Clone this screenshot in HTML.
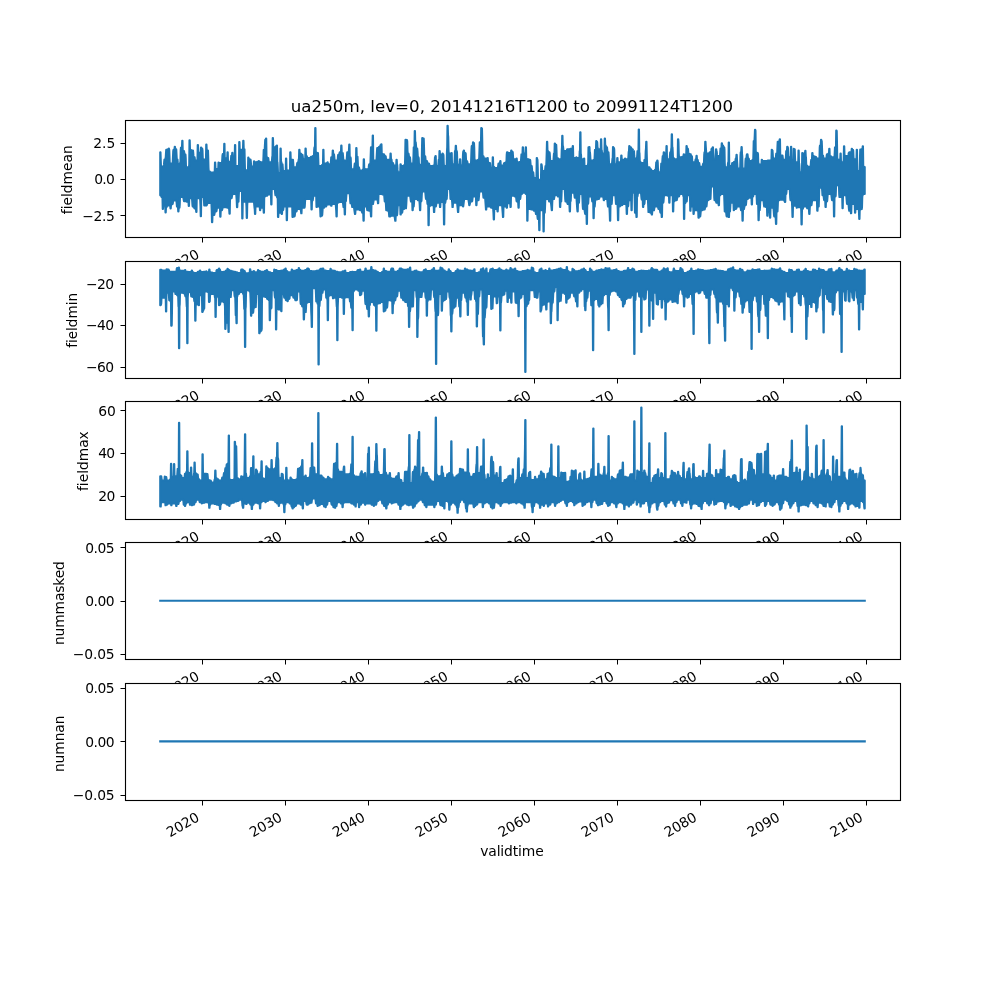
<!DOCTYPE html>
<html lang="en"><head><meta charset="utf-8"><title>ua250m, lev=0, 20141216T1200 to 20991124T1200</title>
<style>html,body{margin:0;padding:0;background:#fff;width:1000px;height:1000px;overflow:hidden}svg{display:block}text{white-space:pre;font-variant-ligatures:none;font-feature-settings:'liga' 0,'clig' 0}</style>
</head><body>
<svg width="1000" height="1000" viewBox="0 0 1000 1000">
<rect x="0" y="0" width="1000" height="1000" fill="#ffffff"/>
<defs>
<clipPath id="c0"><rect x="125.000" y="120.000" width="775.000" height="117.241"/></clipPath>
<clipPath id="c1"><rect x="125.000" y="260.690" width="775.000" height="117.241"/></clipPath>
<clipPath id="c2"><rect x="125.000" y="401.379" width="775.000" height="117.241"/></clipPath>
<clipPath id="c3"><rect x="125.000" y="542.069" width="775.000" height="117.241"/></clipPath>
<clipPath id="c4"><rect x="125.000" y="682.759" width="775.000" height="117.241"/></clipPath>
</defs>
<g font-family="'DejaVu Sans','Liberation Sans',sans-serif" font-size="13.889" fill="#000000">
<g id="axes1">
<rect x="125.000" y="120.000" width="775.000" height="117.241" fill="#ffffff"/>
<path d="M160.23 152.24 L160.48 152.24 L160.73 159.79 L160.98 166.64 L163.73 166.64 L163.98 164.68 L164.23 161.35 L164.48 159.44 L165.48 159.44 L165.73 157.72 L165.98 153.28 L166.23 149.84 L167.23 149.83 L167.48 149.41 L167.73 149.24 L168.48 149.24 L168.73 148.64 L168.98 148.64 L169.23 149.84 L169.48 156.58 L169.73 163.64 L172.48 163.64 L172.73 162.46 L173.23 151.18 L173.48 149.84 L174.48 149.84 L174.73 146.84 L174.98 146.84 L175.23 149.24 L176.23 149.24 L176.73 158.62 L176.98 159.44 L177.48 159.44 L177.73 162.16 L177.98 163.64 L180.23 163.64 L180.48 161.11 L180.73 149.86 L180.98 147.44 L181.73 147.44 L181.98 147.24 L182.23 140.84 L182.48 140.84 L182.73 151.04 L183.98 151.04 L184.23 152.35 L184.48 154.02 L184.73 154.64 L185.48 154.64 L185.73 158.35 L185.98 167.1 L186.23 167.24 L188.98 167.24 L189.23 164.33 L189.48 140.24 L189.73 140.24 L189.98 149.84 L190.73 149.84 L190.98 149.96 L191.48 150.37 L191.98 150.44 L192.98 150.44 L193.23 152.83 L193.48 155.89 L193.73 157.04 L194.48 157.04 L194.73 158.1 L194.98 160.6 L197.48 160.64 L197.73 145.04 L197.98 145.04 L198.23 152.84 L200.73 152.84 L200.98 147.44 L201.23 147.44 L201.48 148.64 L202.23 148.64 L202.48 150.3 L202.73 157.8 L202.98 159.44 L205.73 159.44 L205.98 159 L206.23 144.44 L206.48 144.44 L206.73 150.44 L207.98 150.44 L208.23 158.03 L208.48 167.75 L208.73 171.44 L209.73 171.44 L209.98 171.77 L210.23 172.32 L210.48 172.64 L213.48 172.64 L213.73 172.54 L214.23 172.04 L214.73 172.04 L214.98 162.44 L215.23 162.44 L215.48 169.04 L218.23 169.04 L218.48 162.44 L218.73 162.44 L218.98 163.04 L221.98 163.04 L222.23 159.8 L222.48 155.63 L222.73 154.04 L223.73 154.04 L223.98 153.75 L224.23 143.84 L224.48 143.84 L224.73 158.24 L227.23 158.24 L227.48 152.24 L227.73 152.24 L227.98 161.84 L230.73 161.84 L230.98 159.27 L231.23 155.84 L231.98 155.84 L232.23 152.84 L232.48 152.84 L232.73 157.04 L234.73 157.04 L234.98 145.04 L235.23 145.04 L235.48 165.63 L235.73 166.04 L238.73 166.04 L238.98 165.38 L239.23 142.04 L239.48 142.04 L239.73 149.84 L242.98 149.84 L243.23 140.84 L243.48 140.84 L243.73 149.24 L244.48 149.24 L244.73 159.92 L244.98 170.24 L247.98 170.24 L248.23 157.64 L248.48 157.64 L248.73 158.64 L248.98 159.21 L249.23 159.44 L250.48 159.44 L250.73 160.69 L250.98 164.02 L251.23 166.64 L253.73 166.64 L253.98 161.24 L254.23 161.24 L254.48 162.29 L256.48 162.29 L256.73 162.21 L257.23 161.67 L258.48 161.67 L258.73 161.04 L258.98 161.04 L259.23 161.67 L259.98 161.67 L260.48 162.29 L263.23 162.29 L263.48 156.8 L263.73 149.79 L264.48 149.79 L264.73 149.1 L264.98 143.98 L265.23 139.79 L265.73 139.79 L265.98 138.54 L266.23 138.54 L266.48 156.67 L266.73 156.75 L266.98 157.39 L267.23 157.92 L268.23 157.92 L268.48 159.88 L268.73 162.29 L271.73 162.29 L271.98 160.26 L272.23 157.05 L272.48 156.04 L272.73 137.92 L272.98 137.92 L273.23 147.29 L275.48 147.29 L275.73 146.89 L275.98 146.24 L276.23 146.04 L276.48 146.04 L276.73 145.42 L276.98 145.42 L277.23 162.29 L277.48 162.29 L277.73 166.96 L277.98 172.92 L280.23 172.92 L280.48 148.54 L280.73 148.54 L280.98 161.67 L281.23 161.67 L281.48 162.77 L281.73 164.17 L282.48 164.17 L282.73 167.19 L282.98 171.04 L285.73 171.04 L285.98 158.54 L286.23 158.54 L286.48 169.79 L286.73 169.86 L286.98 170.27 L287.23 170.42 L289.98 170.42 L290.23 152.29 L290.48 152.29 L290.73 159.79 L292.98 159.79 L293.23 163.16 L293.48 167.29 L296.48 167.29 L296.73 166.74 L297.23 162.92 L298.23 162.92 L298.48 161.27 L298.73 159.17 L298.98 159.17 L299.23 149.79 L299.48 149.79 L299.73 153.54 L300.73 153.54 L300.98 153.7 L301.48 154.79 L302.48 154.79 L302.73 156.71 L302.98 159.17 L305.23 159.17 L305.48 148.54 L305.73 148.54 L305.98 156.04 L306.73 156.04 L306.98 156.88 L307.23 157.92 L310.23 157.92 L310.48 157.76 L310.98 156.67 L312.23 156.67 L312.73 156.17 L312.98 156.04 L313.73 156.04 L313.98 155.11 L314.23 149.28 L314.48 147.29 L314.98 147.29 L315.23 127.92 L315.48 127.92 L315.73 152.29 L316.23 152.29 L316.73 152.79 L316.98 152.92 L317.98 152.92 L318.23 158.82 L318.48 166.04 L321.48 166.04 L321.73 165.88 L322.23 164.79 L322.98 164.79 L323.23 149.79 L323.48 149.79 L323.73 163.54 L326.23 163.54 L326.73 162.92 L327.23 162.92 L327.48 162.29 L327.73 162.29 L327.98 164.17 L330.73 164.17 L330.98 161.15 L331.23 157.29 L332.23 157.29 L332.48 156.12 L332.73 150.42 L332.98 150.42 L333.23 154.17 L333.98 154.17 L334.23 156.34 L334.48 159.12 L334.73 160.42 L337.48 160.42 L337.73 159.82 L337.98 156.07 L338.23 154.79 L338.98 154.79 L339.23 154.48 L339.73 152.29 L340.98 152.29 L341.23 145.42 L341.48 145.42 L341.73 152.92 L342.73 152.92 L342.98 155.53 L343.23 158.86 L343.48 160.42 L346.48 160.42 L346.73 159.39 L346.98 155.78 L347.23 152.29 L348.73 152.29 L348.98 149.94 L349.23 144.54 L349.48 144.54 L349.73 157.29 L350.48 157.29 L350.73 158.55 L350.98 166.47 L351.23 169.17 L353.98 169.17 L354.23 168.46 L354.48 165.96 L354.73 163.54 L355.98 163.54 L356.23 147.92 L356.48 147.92 L356.73 156.67 L357.48 156.67 L357.73 161.34 L357.98 167.29 L358.98 167.29 L359.23 168.38 L359.48 169.77 L359.73 170.42 L362.48 170.42 L362.73 170.28 L362.98 169.45 L363.23 169.17 L363.48 169.17 L363.73 159.17 L363.98 159.17 L364.23 168.54 L364.73 168.62 L365.23 169.17 L368.48 169.17 L368.73 167.42 L368.98 165.2 L369.23 164.17 L370.23 164.17 L370.48 162.04 L370.73 154.54 L370.98 147.29 L372.23 147.29 L372.48 146.15 L372.73 135.42 L372.98 135.42 L373.23 160.42 L376.48 160.42 L376.73 155.84 L376.98 150.94 L377.23 147.92 L378.48 147.92 L378.73 147.48 L378.98 146.93 L379.23 146.67 L379.98 146.67 L380.23 146.47 L380.48 145.22 L380.73 144.79 L380.98 144.79 L381.23 144.17 L381.48 144.17 L381.73 153.54 L382.23 153.62 L382.73 154.17 L383.98 154.17 L384.23 154.82 L384.48 155.65 L384.73 156.04 L385.48 156.04 L385.73 156.44 L385.98 158.94 L386.23 159.79 L390.23 159.79 L390.48 153.54 L390.73 153.54 L390.98 159.17 L391.23 159.17 L391.48 159.42 L391.73 161.35 L391.98 162.92 L392.98 162.92 L393.23 164.04 L393.48 165.42 L396.23 165.42 L396.48 159.79 L396.73 159.79 L396.98 164.79 L397.23 164.79 L397.48 169.43 L397.73 172.29 L400.23 172.29 L400.48 164.17 L400.73 164.17 L400.98 166.04 L403.73 166.04 L403.98 165.91 L404.23 165.08 L404.48 164.79 L404.98 164.79 L405.23 154.19 L405.48 139.79 L405.73 139.79 L406.23 140.04 L406.98 140.04 L407.23 141.47 L407.48 150.47 L407.73 153.54 L408.48 153.54 L408.73 154.76 L408.98 156.68 L409.23 157.29 L409.98 157.29 L410.23 160.04 L410.48 163.54 L413.23 163.54 L413.48 156.4 L413.73 147.29 L414.48 147.29 L414.73 131.04 L414.98 131.04 L415.23 142.29 L415.73 142.29 L415.98 145.1 L416.23 148.54 L417.23 148.54 L417.48 151.39 L417.73 155.87 L417.98 157.29 L418.48 157.29 L418.73 158.61 L418.98 164.79 L421.73 164.79 L421.98 148.76 L422.23 137.92 L422.48 137.92 L422.98 138.54 L423.73 138.54 L423.98 146.23 L424.23 156.04 L424.98 156.04 L425.23 156.39 L425.48 158.95 L425.73 161.04 L426.98 161.04 L427.48 162.94 L427.73 163.54 L428.98 163.54 L429.23 164.41 L429.48 165.52 L429.73 166.04 L432.73 166.04 L432.98 165.96 L433.48 165.42 L434.48 165.42 L434.73 161.85 L434.98 157.29 L435.23 157.29 L435.48 156.04 L435.73 156.04 L435.98 166.04 L438.23 166.04 L438.48 163.3 L438.73 159.79 L439.23 159.79 L439.48 151.04 L439.73 151.04 L439.98 154.79 L442.23 154.79 L442.48 153.54 L442.73 153.54 L442.98 154.17 L443.23 154.17 L443.48 155.43 L443.73 163.34 L443.98 166.04 L446.48 166.04 L446.73 164.05 L446.98 151.55 L447.23 147.29 L447.48 125.79 L447.73 125.79 L447.98 134.79 L448.23 136.78 L448.48 149.28 L448.73 153.54 L451.23 153.54 L451.48 152.92 L451.73 152.92 L451.98 164.17 L454.48 164.17 L454.73 158.4 L454.98 151.04 L455.48 151.04 L455.73 145.79 L455.98 145.79 L456.23 151.04 L456.73 151.04 L456.98 152.5 L457.23 161.67 L457.48 164.79 L459.73 164.79 L459.98 159.17 L460.23 159.17 L460.48 165.42 L462.48 165.42 L462.73 163.96 L462.98 154.79 L463.23 151.67 L463.48 151.67 L463.73 150.42 L463.98 150.42 L464.23 152.42 L464.48 152.92 L465.48 152.92 L465.73 153.78 L465.98 159.2 L466.23 161.04 L466.98 161.04 L467.23 161.44 L467.73 164.17 L470.98 164.17 L471.23 157.85 L471.48 149.79 L471.73 146.04 L472.73 146.04 L472.98 142.29 L473.23 142.29 L473.48 142.92 L473.98 142.92 L474.23 148.05 L474.48 158.66 L474.73 160.42 L477.48 160.42 L477.98 159.79 L478.98 159.79 L479.23 157.58 L479.48 149.8 L479.73 142.29 L480.98 142.29 L481.23 127.92 L481.48 127.92 L481.73 128.54 L481.98 128.54 L482.23 140.21 L482.48 156.04 L483.23 156.04 L483.48 156.36 L483.98 158.54 L487.23 158.54 L487.48 157.92 L487.73 157.92 L487.98 162.29 L488.48 162.37 L488.98 162.92 L489.98 162.92 L490.23 165.39 L490.48 168.54 L492.48 168.54 L492.73 157.29 L492.98 157.29 L493.23 166.67 L493.98 166.67 L494.23 167.1 L494.48 167.66 L494.73 167.92 L497.73 167.92 L497.98 167.36 L498.48 163.54 L499.73 163.54 L499.98 163.12 L500.23 161.04 L500.48 161.04 L500.73 165.42 L503.48 165.42 L503.73 164.55 L503.98 163.43 L504.23 162.92 L504.98 162.92 L505.23 162.85 L505.48 162.43 L505.73 162.29 L506.23 162.29 L506.48 161.23 L506.73 154.56 L506.98 152.29 L507.73 152.33 L508.23 152.92 L510.98 152.92 L511.23 150.42 L511.48 150.42 L511.73 151.67 L512.48 151.67 L512.73 152.18 L512.98 156.03 L513.23 159.17 L516.23 159.17 L516.48 158.54 L516.73 158.54 L516.98 162.29 L519.48 162.29 L519.98 161.67 L520.73 161.67 L520.98 161.15 L521.23 157.3 L521.48 154.17 L522.48 154.17 L522.73 147.29 L522.98 147.29 L523.23 153.54 L525.48 153.54 L525.73 147.29 L525.98 147.29 L526.23 158.54 L526.73 158.54 L527.23 159.17 L528.23 159.17 L528.48 159.25 L528.98 159.79 L529.98 159.79 L530.23 160.22 L530.48 163.43 L530.73 166.04 L531.73 166.04 L531.98 168.85 L532.23 172.29 L533.23 172.29 L533.48 174.82 L533.73 177.92 L536.48 177.92 L536.73 157.92 L536.98 157.92 L537.23 159.79 L537.48 159.79 L537.73 168.58 L537.98 179.79 L540.98 179.79 L541.23 164.17 L541.48 164.17 L541.73 165.42 L541.98 167.8 L542.23 171.04 L544.98 171.04 L545.23 168.79 L545.48 166.04 L546.23 166.04 L546.48 160.21 L546.73 152.29 L546.98 141.67 L547.23 141.67 L547.48 151.04 L547.98 151.04 L548.23 151.6 L548.48 152.29 L549.48 152.29 L549.73 153.4 L549.98 157.29 L550.23 161.04 L553.23 161.04 L553.48 160.53 L553.73 156.68 L553.98 153.54 L554.48 153.54 L554.73 143.54 L554.98 143.54 L555.23 144.79 L556.23 144.79 L556.48 150.56 L556.73 157.92 L557.73 157.92 L557.98 158.35 L558.23 158.91 L558.48 159.17 L561.23 159.17 L561.48 157.91 L561.73 149.99 L561.98 147.29 L562.23 135.79 L562.48 135.79 L562.73 146.04 L562.98 146.04 L563.23 148.29 L563.48 151.04 L566.48 151.04 L566.73 150.8 L567.23 149.17 L569.98 149.17 L570.23 148.79 L572.48 148.79 L572.73 146.04 L572.98 146.04 L573.23 157.92 L575.98 157.92 L576.23 157.29 L576.48 157.29 L576.73 157.92 L579.23 157.92 L579.48 156.71 L579.73 151.04 L579.98 151.04 L580.23 132.29 L580.48 132.29 L580.73 153.54 L580.98 154.53 L581.23 159.17 L583.73 159.17 L583.98 158.54 L584.23 158.54 L584.48 166.04 L586.98 166.04 L587.48 165.42 L587.98 165.42 L588.23 162.24 L588.48 147.29 L588.98 147.29 L589.23 147.04 L589.48 147.04 L589.73 152.29 L589.98 152.29 L590.23 155.86 L590.48 160.42 L593.23 160.42 L593.73 159.79 L594.48 159.79 L594.73 155.4 L594.98 149.79 L595.98 149.79 L596.23 141.04 L596.48 141.04 L596.73 141.67 L596.98 141.67 L597.23 142.46 L597.48 147.46 L597.73 149.17 L600.48 149.17 L600.73 148.71 L600.98 139.17 L601.23 139.17 L601.48 149.79 L601.73 150.19 L601.98 152.69 L602.23 153.54 L604.48 153.54 L604.73 138.54 L604.98 138.54 L605.23 145.42 L605.48 145.42 L605.73 145.62 L605.98 146.87 L606.23 147.29 L606.98 147.29 L607.23 149.54 L607.48 152.29 L608.48 152.29 L608.73 156.15 L608.98 162.24 L609.23 164.17 L611.98 164.17 L612.23 161.7 L612.48 158.54 L612.73 158.54 L612.98 147.04 L613.23 147.04 L613.48 147.92 L613.98 147.92 L614.23 149.64 L614.48 160.47 L614.73 164.17 L616.98 164.17 L617.23 157.92 L617.48 157.92 L617.73 162.29 L619.98 162.29 L620.23 162.23 L620.48 161.81 L620.73 161.67 L620.98 161.67 L621.23 155.42 L621.48 155.42 L621.73 159.79 L624.73 159.79 L624.98 158.54 L625.23 158.54 L625.48 159.17 L628.23 159.17 L628.48 155.87 L628.73 151.67 L628.98 151.67 L629.23 146.04 L629.48 146.04 L629.73 146.95 L629.98 147.29 L630.98 147.29 L631.23 147.9 L631.48 148.86 L631.73 149.17 L632.48 149.17 L632.73 149.3 L632.98 150.26 L633.23 151.04 L633.98 151.04 L634.23 155.93 L634.48 158.54 L636.98 158.54 L637.23 155.25 L637.48 151.04 L638.48 151.04 L638.73 129.54 L638.98 129.54 L639.23 152.29 L639.48 153.35 L639.73 160.02 L639.98 162.29 L640.48 162.29 L640.73 162.36 L640.98 162.77 L641.23 162.92 L643.98 162.92 L644.23 161.51 L644.48 159.79 L645.23 159.79 L645.48 158.6 L645.73 151.1 L645.98 148.54 L646.23 141.67 L646.48 141.67 L646.73 153.54 L646.98 162.5 L647.23 167.29 L649.48 167.29 L649.73 168.13 L649.98 169.17 L650.98 169.17 L651.23 169.78 L651.48 170.74 L651.73 171.04 L654.48 171.04 L654.73 170.49 L654.98 169.79 L655.73 169.79 L655.98 166.5 L656.23 162.29 L656.98 162.29 L657.23 160.42 L657.48 160.42 L657.73 162.29 L657.98 168.81 L658.23 172.29 L660.73 172.29 L660.98 168.45 L661.23 163.54 L661.98 163.54 L662.23 163.03 L662.48 159.18 L662.73 156.04 L663.48 156.04 L663.73 152.29 L663.98 152.29 L664.23 153.54 L666.23 153.54 L666.48 146.04 L666.73 146.04 L666.98 159.17 L669.48 159.17 L669.73 158.69 L669.98 155.17 L670.23 152.29 L670.98 152.29 L671.23 149.03 L671.48 147.29 L671.73 134.17 L671.98 134.17 L672.23 147.29 L672.48 147.29 L672.73 151.96 L672.98 157.92 L673.73 157.92 L673.98 158.47 L674.23 159.17 L676.98 159.17 L677.48 158.54 L677.73 158.54 L677.98 139.17 L678.23 139.17 L678.48 142.29 L678.73 152.97 L678.98 157.29 L681.48 157.29 L681.73 157.21 L682.23 156.67 L683.48 156.67 L683.73 154.17 L683.98 154.17 L684.23 154.79 L686.23 154.79 L686.48 146.04 L686.73 146.04 L686.98 148.54 L687.73 148.54 L687.98 149.07 L688.23 152.41 L688.48 153.54 L689.23 153.54 L689.73 154.17 L690.48 154.17 L690.73 154.37 L690.98 155.62 L691.23 156.04 L691.73 156.04 L691.98 156.7 L692.23 160.87 L692.48 162.29 L694.98 162.29 L695.23 161.96 L695.48 159.88 L695.73 159.17 L696.23 159.17 L696.48 155.79 L696.73 155.79 L696.98 159.79 L697.48 159.79 L697.73 160.01 L697.98 161.61 L698.23 162.92 L699.23 162.92 L699.48 164.6 L699.73 166.67 L702.48 166.67 L702.73 166.34 L702.98 164.25 L703.23 163.54 L703.73 163.54 L703.98 162.35 L704.23 154.85 L704.48 152.29 L704.98 152.29 L705.23 141.67 L705.48 141.67 L705.73 146.04 L705.98 149.22 L706.23 153.54 L708.98 153.54 L709.23 153.38 L709.73 152.29 L710.98 152.29 L711.23 150.98 L711.48 149.32 L711.73 148.54 L712.48 148.54 L712.73 147.29 L712.98 147.29 L713.23 152.29 L713.48 155.47 L713.73 159.79 L715.73 159.79 L715.98 149.17 L716.23 149.17 L716.48 151.04 L716.73 151.57 L716.98 154.91 L717.23 156.04 L719.98 156.04 L720.23 152.67 L720.48 148.54 L721.48 148.54 L721.73 143.29 L721.98 143.29 L722.23 145.42 L722.98 145.42 L723.23 146.26 L723.48 147.29 L724.23 147.29 L724.48 149.41 L724.73 162.75 L724.98 167.29 L727.48 167.29 L727.73 166.76 L727.98 163.43 L728.23 162.29 L728.48 162.29 L728.73 142.54 L728.98 142.54 L729.23 166.04 L731.48 166.04 L731.73 165.65 L732.23 162.92 L733.48 162.92 L733.73 162.48 L733.98 161.93 L734.23 161.67 L735.23 161.67 L735.48 160.26 L735.73 158.54 L736.23 158.54 L736.48 154.79 L736.73 154.79 L736.98 159.79 L737.23 163.5 L737.48 168.54 L739.98 168.54 L740.23 166.82 L740.48 155.98 L740.73 152.29 L741.23 152.29 L741.48 147.04 L741.73 147.04 L741.98 153.54 L742.23 156.17 L742.48 168.54 L744.98 168.54 L745.23 167.48 L745.48 160.81 L745.73 158.54 L746.23 158.54 L746.48 158.08 L746.73 155.16 L746.98 154.17 L747.48 154.17 L747.73 156.09 L747.98 158.54 L748.73 158.54 L748.98 159.64 L749.23 161.04 L751.98 161.04 L752.23 160.49 L752.48 159.79 L753.23 159.79 L753.48 151.55 L753.73 141.04 L754.48 141.04 L754.73 135.99 L754.98 129.79 L755.23 129.79 L755.48 130.81 L755.73 152.29 L756.48 152.33 L756.98 152.92 L757.73 152.92 L757.98 154.11 L758.23 161.61 L758.48 164.17 L758.98 164.17 L759.23 164.23 L759.48 164.65 L761.48 164.65 L761.73 159.79 L761.98 159.79 L762.23 161.04 L767.23 161.04 L767.73 160.55 L767.98 160.42 L770.73 160.42 L771.23 159.79 L771.48 159.79 L771.73 149.79 L771.98 149.79 L772.23 150.42 L772.48 150.42 L772.73 153.99 L772.98 158.54 L775.73 158.54 L775.98 156.34 L776.23 153.54 L776.98 153.54 L777.23 152.73 L777.48 146.64 L777.73 141.67 L778.73 141.67 L779.23 141.04 L779.48 141.04 L779.73 139.17 L779.98 139.17 L780.23 155.42 L782.48 155.42 L782.73 157.34 L782.98 159.79 L785.73 159.79 L785.98 155.95 L786.23 151.04 L786.98 151.04 L787.23 146.67 L787.48 146.67 L787.73 147.29 L787.98 148.35 L788.23 155.02 L788.48 157.29 L790.73 157.29 L790.98 146.67 L791.23 146.67 L791.48 162.29 L793.48 162.29 L793.73 148.79 L793.98 148.79 L794.23 149.17 L794.73 149.17 L794.98 156.99 L795.23 162.29 L798.23 162.29 L798.48 150.42 L798.73 150.42 L798.98 163.54 L799.23 163.54 L799.48 167.47 L799.73 172.29 L801.98 172.29 L802.23 152.92 L802.48 152.92 L802.73 153.54 L804.98 153.54 L805.23 150.79 L805.48 150.79 L805.73 156.04 L805.98 157.69 L806.23 165.42 L806.98 165.42 L807.23 165.82 L807.48 166.46 L807.73 166.67 L810.48 166.67 L810.73 165.49 L810.98 161.67 L811.23 159.79 L811.98 159.79 L812.23 152.92 L812.48 152.92 L812.73 156.04 L813.48 156.04 L813.73 156.13 L814.23 156.54 L814.48 156.67 L815.73 156.67 L815.98 156.9 L816.48 158.54 L819.23 158.54 L819.48 158.44 L819.73 147.5 L819.98 145.42 L820.73 145.42 L820.98 139.79 L821.23 139.79 L821.48 141.04 L821.73 141.04 L821.98 147.14 L822.23 155.42 L822.98 155.42 L823.23 156.82 L823.48 158.54 L826.23 158.54 L826.48 158.08 L826.73 155.16 L826.98 154.17 L827.73 154.17 L827.98 154.09 L828.48 153.54 L828.98 153.54 L829.23 148.79 L829.48 148.79 L829.73 156.04 L830.73 156.04 L831.23 156.99 L831.48 157.29 L834.48 157.29 L834.73 152.9 L834.98 147.29 L835.98 147.29 L836.23 130.42 L836.48 130.42 L836.73 131.04 L836.98 142.97 L837.23 159.17 L837.73 159.17 L837.98 159.57 L838.23 159.79 L840.23 159.79 L840.48 153.54 L840.73 153.54 L840.98 162.29 L843.48 162.29 L843.73 159.57 L843.98 146.29 L844.23 146.29 L844.48 155.42 L844.73 155.42 L844.98 155.62 L845.23 155.94 L845.48 156.04 L848.23 156.04 L848.48 154.67 L848.73 152.92 L848.98 152.92 L849.23 152.29 L851.48 152.29 L851.73 148.79 L851.98 148.79 L852.23 149.79 L852.98 149.79 L853.23 150.79 L853.48 157.04 L853.73 159.17 L856.48 159.17 L856.73 149.79 L856.98 149.79 L857.23 171.04 L859.48 171.04 L859.73 169.56 L859.98 158.54 L860.23 149.54 L861.23 149.54 L861.73 149.17 L862.48 149.17 L862.73 146.29 L862.98 146.29 L863.23 166.04 L863.48 166.17 L863.73 167.01 L864.73 167.01 L864.73 193.96 L863.73 193.96 L863.23 194.58 L862.48 194.58 L862.23 197.85 L861.98 207.43 L861.73 208.96 L861.23 208.96 L860.98 209.1 L860.73 209.52 L860.48 209.58 L859.73 209.58 L859.48 218.96 L859.23 218.96 L858.98 211.99 L858.73 208.96 L855.48 208.96 L855.23 212.71 L854.98 212.71 L854.73 203.96 L851.48 203.96 L851.23 213.33 L850.98 213.33 L850.73 211.54 L850.48 210.83 L849.23 210.83 L848.98 209.41 L848.73 206.35 L848.48 203.96 L847.23 203.96 L846.98 203.69 L846.48 197.86 L846.23 195.21 L842.98 195.21 L842.73 208.33 L842.48 208.33 L842.23 197.08 L839.48 197.08 L839.23 194.38 L838.98 186.47 L838.73 185.21 L836.23 185.21 L835.98 187.77 L835.73 195.27 L835.48 196.46 L834.73 196.46 L834.48 197.37 L834.23 216.46 L833.98 216.46 L833.73 201.77 L833.48 200.21 L832.23 200.21 L831.98 200.02 L831.48 195.85 L831.23 193.96 L827.73 193.96 L827.48 197.18 L827.23 200.51 L826.98 201.46 L825.98 201.46 L825.73 207.08 L825.48 207.08 L825.23 200.21 L824.23 200.21 L823.98 199.17 L823.73 196.95 L823.48 195.21 L822.48 195.21 L822.23 191 L821.98 187.71 L819.23 187.71 L818.98 198.22 L818.73 206.46 L817.73 206.46 L817.48 210.83 L817.23 210.83 L816.98 200.21 L812.23 200.21 L811.98 201.24 L811.73 203.47 L811.48 205.21 L810.23 205.21 L809.98 205.47 L809.73 208.39 L809.48 213.96 L809.23 213.96 L808.98 210.04 L808.73 208.33 L807.23 208.33 L806.73 206.7 L806.48 206.46 L803.48 206.46 L803.23 206.98 L802.98 208.09 L802.73 208.96 L801.98 208.96 L801.73 224.58 L801.48 224.58 L801.23 210.06 L800.98 207.08 L797.48 207.1 L797.23 207.31 L796.98 207.71 L796.73 207.71 L796.48 206.4 L796.23 205.83 L792.98 205.83 L792.73 217.08 L792.48 217.08 L792.23 208.13 L791.98 202.51 L791.73 200.21 L790.48 200.21 L790.23 197.88 L789.98 192.88 L789.73 188.96 L786.73 188.96 L786.48 191.76 L786.23 193.96 L785.48 193.96 L785.23 202.08 L784.98 202.08 L784.73 201.61 L783.98 199.61 L779.98 199.6 L779.23 200.21 L777.98 200.21 L777.73 206.52 L777.48 211.46 L776.48 211.46 L776.23 223.96 L775.98 223.96 L775.73 218.57 L775.48 216.46 L774.23 216.46 L773.98 214.65 L773.73 210.76 L773.48 207.71 L770.48 207.71 L770.23 217.71 L769.98 217.71 L769.73 211.46 L767.73 211.46 L767.48 215.83 L767.23 215.83 L766.98 207.08 L765.98 207.08 L765.48 206.54 L765.23 206.46 L764.23 206.46 L763.98 205.16 L763.73 202.39 L763.48 200.21 L760.48 200.21 L760.23 201.83 L759.98 206.96 L759.73 210.21 L758.98 210.21 L758.73 220.21 L758.48 220.21 L758.23 204.7 L757.98 203.96 L756.98 203.96 L756.73 198.45 L756.48 193.96 L753.73 193.96 L753.48 194.53 L753.23 196.19 L752.98 196.46 L752.23 196.46 L751.98 204.58 L751.73 204.58 L751.48 197.71 L748.48 197.71 L748.23 197.97 L747.98 198.52 L747.73 198.96 L746.48 198.96 L746.23 201.64 L745.98 204.42 L745.73 205.21 L744.73 205.21 L744.48 205.98 L744.23 207.65 L743.98 208.96 L742.98 208.96 L742.73 220.83 L742.48 220.83 L742.23 210.21 L740.98 210.21 L740.48 206.93 L740.23 206.46 L736.98 206.46 L736.73 206.95 L736.23 208.62 L735.98 208.96 L734.48 208.96 L734.23 209.2 L733.98 210.21 L733.73 210.21 L733.48 202.71 L730.48 202.71 L730.23 207.61 L729.98 211.46 L729.23 211.46 L728.98 217.08 L728.73 217.08 L728.48 216.75 L728.23 216.54 L727.98 216.46 L726.73 216.46 L726.48 215.42 L726.23 213.2 L725.98 211.46 L724.73 211.46 L724.48 203.95 L724.23 196.17 L723.98 193.96 L720.98 193.96 L720.73 194.22 L720.48 194.77 L720.23 195.21 L719.23 195.21 L718.98 205.21 L718.73 205.21 L718.48 203.88 L718.23 203.05 L717.98 202.71 L716.48 202.71 L716.23 202.22 L715.73 200.55 L715.48 200.21 L714.48 200.21 L714.23 197.08 L713.98 187.92 L713.73 186.46 L710.98 186.46 L710.73 193.34 L710.48 198.96 L709.23 198.96 L708.73 199.86 L708.48 200.21 L707.23 200.21 L706.98 201.5 L706.73 204.28 L706.48 206.46 L705.23 206.46 L704.73 209.19 L704.48 209.58 L703.23 209.58 L702.98 209.71 L702.48 210.12 L702.23 210.21 L700.98 210.21 L700.73 211.5 L700.48 214.28 L700.23 216.46 L698.98 216.46 L698.73 217.71 L698.48 217.71 L698.23 210.83 L697.98 210.83 L697.73 210.7 L697.23 210.21 L693.98 210.21 L693.73 213.96 L693.48 213.96 L693.23 206.46 L690.73 206.46 L690.48 210.83 L690.23 210.83 L689.98 195.21 L687.23 195.21 L686.98 198.65 L686.73 201.46 L685.73 201.46 L685.48 202.24 L685.23 203.2 L684.98 203.33 L684.48 203.33 L684.23 218.96 L683.98 218.96 L683.73 196.46 L683.48 196.46 L682.98 194.27 L682.73 193.96 L679.73 193.96 L679.48 194.48 L679.23 195.59 L678.98 196.46 L677.73 196.46 L677.48 196.57 L676.98 199.07 L676.73 200.21 L674.98 200.25 L674.23 201.46 L673.48 201.46 L673.23 211.46 L672.98 211.46 L672.73 195.21 L669.73 195.21 L669.48 202.71 L669.23 202.71 L668.98 195.83 L667.98 195.83 L667.73 195.7 L667.23 195.21 L663.98 195.21 L663.73 198.43 L663.48 201.76 L663.23 202.71 L662.23 202.71 L661.98 217.08 L661.73 217.08 L661.48 212.71 L660.48 212.71 L660.23 211.93 L659.98 210.27 L659.73 208.96 L658.48 208.96 L657.98 206.77 L657.73 206.46 L654.73 206.46 L654.48 207.23 L654.23 208.9 L653.98 210.21 L652.73 210.21 L652.48 210.34 L652.23 211.8 L651.98 214.58 L651.73 214.58 L651.48 212.71 L650.48 212.71 L650.23 212.58 L649.73 212.08 L648.48 212.08 L648.23 206.45 L647.98 200.62 L647.73 198.96 L644.98 198.96 L644.73 200.09 L644.48 203.43 L644.23 203.96 L643.48 203.96 L643.23 207.08 L642.98 207.08 L642.73 199.58 L641.73 199.58 L641.48 198.16 L641.23 195.1 L640.98 192.71 L637.98 192.71 L637.73 194.81 L637.48 196.46 L636.98 196.46 L636.73 217.08 L636.48 217.08 L636.23 213.45 L635.98 212.71 L634.98 212.71 L634.73 201.5 L634.48 192.71 L631.98 192.71 L631.73 210.21 L631.48 210.21 L631.23 200.21 L628.73 200.21 L628.48 201.63 L628.23 205.8 L627.98 206.46 L627.23 206.46 L626.98 213.96 L626.73 213.96 L626.48 206.99 L626.23 203.96 L622.73 203.96 L622.23 205.05 L621.98 205.21 L620.73 205.21 L620.48 205.45 L619.98 206.29 L619.73 206.46 L618.48 206.46 L618.23 220.21 L617.98 220.21 L617.73 208.88 L617.48 203.96 L615.98 203.96 L615.73 200.2 L615.48 196.31 L615.23 195.21 L612.23 195.21 L611.98 200.03 L611.73 203.96 L610.48 203.96 L610.23 220.83 L609.98 220.83 L609.73 213.21 L609.48 208.42 L609.23 206.46 L607.98 206.46 L607.73 204.91 L607.48 201.57 L607.23 198.96 L604.23 198.96 L603.98 200.21 L603.73 200.21 L603.48 198.22 L603.23 196.97 L602.98 196.46 L599.73 196.46 L599.48 196.98 L599.23 198.09 L598.98 198.96 L597.48 198.98 L596.73 199.58 L595.23 199.58 L594.98 202.8 L594.73 206.14 L594.48 207.08 L593.98 207.08 L593.73 218.33 L593.48 218.33 L593.23 201.46 L592.23 201.46 L591.73 197.09 L591.48 196.46 L588.73 196.46 L588.48 198.16 L588.23 203.16 L587.98 203.96 L587.23 203.96 L586.98 223.96 L586.73 223.96 L586.48 213.96 L585.23 213.96 L584.98 212.97 L584.48 209.64 L584.23 208.96 L582.98 208.96 L582.73 205.85 L582.48 199.19 L582.23 193.96 L579.48 193.96 L579.23 197.01 L578.98 202.71 L577.98 202.71 L577.73 211.46 L577.48 211.46 L577.23 208.83 L576.48 197.83 L576.23 197.71 L574.73 197.71 L574.23 193.34 L573.98 192.71 L571.23 192.71 L570.98 194.7 L570.73 200.53 L570.48 201.46 L570.23 201.46 L569.98 211.46 L569.73 211.46 L569.48 206.07 L569.23 203.96 L567.73 203.96 L567.48 203.47 L566.98 201.8 L566.73 201.46 L565.48 201.46 L565.23 198.87 L564.98 193.31 L564.73 188.96 L561.73 188.96 L561.48 195.97 L561.23 201.46 L560.48 201.46 L560.23 207.08 L559.98 207.08 L559.73 196.46 L557.98 196.46 L557.73 195.21 L554.73 195.21 L554.48 195.98 L554.23 197.65 L553.98 198.96 L552.73 198.96 L552.48 199.3 L552.23 203.05 L551.98 210.21 L551.73 210.21 L551.48 207.37 L550.98 202.7 L550.73 201.46 L549.23 201.46 L548.98 200.94 L548.73 199.83 L548.48 198.96 L545.48 198.96 L545.23 201.19 L544.98 208.24 L544.73 212.71 L543.98 212.71 L543.73 231.46 L543.48 231.46 L543.23 211.17 L542.98 210.21 L539.98 210.21 L539.73 211.12 L539.48 230.21 L539.23 230.21 L538.98 218.96 L537.73 218.96 L537.48 216.87 L537.23 214.3 L536.98 213.96 L535.98 213.96 L535.48 211.23 L535.23 210.83 L533.98 210.83 L533.73 210.59 L533.23 209.75 L532.98 209.58 L531.48 209.58 L531.23 209.46 L530.73 209.04 L530.48 208.96 L527.73 208.96 L527.48 220.83 L527.23 220.83 L526.98 195.18 L526.73 193.96 L525.73 193.96 L525.48 193.27 L525.23 192.71 L522.48 192.71 L522.23 192.99 L521.98 193.83 L521.73 193.96 L520.98 193.96 L520.73 194.99 L520.48 197.22 L520.23 198.96 L518.98 198.96 L518.73 207.71 L518.48 207.71 L518.23 203.22 L517.98 201.46 L516.73 201.46 L516.48 200.42 L516.23 198.2 L515.98 196.46 L514.98 196.46 L514.73 196.36 L514.48 196.04 L514.23 195.83 L511.23 195.83 L510.98 196.34 L510.73 207.08 L510.48 207.08 L510.23 203.33 L507.23 203.33 L506.98 207.71 L506.73 207.71 L506.48 206.46 L503.48 206.46 L503.23 217.08 L502.98 217.08 L502.73 213.23 L502.23 206.9 L501.98 205.21 L498.23 205.21 L497.98 206.44 L497.73 211.46 L497.48 211.46 L497.23 208.96 L494.23 208.96 L493.98 219.58 L493.73 219.58 L493.48 213.29 L493.23 209.33 L492.98 207.71 L491.23 207.71 L490.98 207.47 L490.23 206.47 L486.48 206.46 L486.23 209.58 L485.98 209.58 L485.73 205.91 L485.23 199.03 L484.98 197.71 L483.48 197.71 L483.23 195.03 L482.98 192.25 L482.73 191.46 L479.48 191.46 L479.23 193.18 L478.73 199.02 L478.48 200.21 L476.98 200.21 L476.73 201.19 L476.48 205.21 L476.23 205.21 L475.98 196.46 L472.73 196.46 L472.23 200.83 L471.98 201.46 L470.48 201.46 L470.23 202.17 L469.48 205.21 L469.23 205.21 L468.98 203.18 L468.48 199.85 L468.23 198.96 L464.23 198.96 L463.98 200.39 L463.73 202.39 L463.23 206.46 L462.98 206.46 L462.73 205.59 L462.48 205.21 L458.98 205.21 L458.73 205.42 L458.48 207.71 L458.23 212.08 L457.98 212.08 L457.73 209.04 L457.23 204.04 L456.98 202.71 L453.23 202.71 L452.98 203.57 L452.73 207.08 L452.48 207.08 L452.23 202.77 L451.98 200.07 L451.73 198.96 L450.48 198.96 L450.23 193.45 L449.98 188.96 L447.23 188.96 L446.98 194.72 L446.73 198.96 L445.98 198.96 L445.73 199.73 L445.48 201.4 L445.23 202.71 L444.48 202.71 L444.23 224.58 L443.98 224.58 L443.73 205.91 L443.48 202.08 L440.48 202.08 L440.23 207.08 L439.98 207.08 L439.73 202.71 L436.48 202.71 L435.98 205.98 L435.73 206.46 L434.48 206.46 L434.23 212.08 L433.98 212.08 L433.73 206.38 L433.48 205.21 L430.23 205.21 L429.73 206.3 L429.48 206.46 L428.98 206.46 L428.73 225.21 L428.48 225.21 L428.23 203.96 L427.48 203.96 L427.23 201.16 L426.98 198.96 L425.98 198.96 L425.73 197.15 L425.48 194.21 L425.23 191.46 L421.98 191.46 L421.73 195.64 L421.48 200.77 L421.23 201.46 L420.48 201.46 L420.23 210.21 L419.98 210.21 L419.73 204.91 L419.48 201.57 L419.23 200.21 L417.98 200.21 L417.73 199.95 L417.48 199.39 L417.23 198.96 L414.23 198.96 L413.98 203.16 L413.73 206.46 L412.98 206.46 L412.73 210.21 L412.48 210.21 L412.23 201.46 L410.98 201.46 L410.73 200.1 L410.48 197.89 L410.23 195.83 L406.73 195.83 L406.48 200.19 L406.23 204.82 L405.98 208.33 L404.73 208.33 L404.48 208.46 L403.98 208.96 L402.73 208.96 L402.23 212.23 L401.98 212.71 L400.98 212.71 L400.73 214.58 L400.48 214.58 L400.23 205.21 L397.73 205.21 L397.48 209.5 L397.23 213.95 L396.98 215.21 L395.73 215.21 L395.48 220.83 L395.23 220.83 L394.98 218.95 L394.48 215.92 L394.23 215.83 L390.98 215.83 L390.73 215.96 L390.23 216.46 L389.23 216.46 L388.98 213.22 L388.73 210.83 L387.98 210.83 L387.73 210.7 L387.23 210.21 L386.23 210.21 L385.98 205.3 L385.73 201.46 L384.73 201.46 L384.48 198.51 L384.23 195.45 L383.98 194.58 L382.73 194.58 L382.48 194.46 L381.98 194.04 L381.73 193.96 L378.48 193.96 L378.23 203.33 L377.98 203.33 L377.73 200.72 L377.48 199.58 L373.98 199.58 L373.73 199.72 L373.23 202.63 L372.98 203.96 L371.48 203.96 L371.23 216.46 L370.98 216.46 L370.73 212.41 L370.48 210.83 L369.23 210.83 L368.98 210.7 L368.48 210.21 L367.23 210.21 L366.73 206.93 L366.48 206.46 L363.98 206.46 L363.73 220.83 L363.48 220.83 L363.23 212.71 L362.23 212.71 L361.73 210.52 L361.48 210.21 L360.23 210.21 L359.98 210.09 L359.48 209.67 L359.23 209.58 L355.73 209.58 L355.48 210.45 L355.23 213.96 L354.98 213.96 L354.73 212.65 L353.98 207.15 L353.73 207.08 L352.23 207.08 L351.73 203.81 L351.48 203.33 L350.48 203.33 L350.23 201.26 L349.98 196.82 L349.73 193.33 L346.48 193.33 L346.23 196.82 L345.98 200.43 L345.73 201.46 L345.23 201.46 L344.98 214.58 L344.73 214.58 L344.48 207.08 L343.48 207.08 L342.98 202.71 L342.73 202.08 L339.23 202.08 L338.23 202.7 L336.98 202.71 L336.73 216.46 L336.48 216.46 L336.23 210.78 L335.98 207.16 L335.73 203.96 L331.98 203.96 L331.73 204.33 L331.48 205.83 L331.23 205.83 L330.98 205.17 L330.73 204.75 L330.48 204.58 L326.98 204.58 L326.73 204.95 L326.23 206.2 L325.98 206.46 L324.73 206.46 L324.48 206.72 L324.23 207.27 L323.98 207.71 L322.73 207.71 L322.48 211.2 L322.23 214.81 L321.98 215.83 L320.98 215.83 L320.73 216.46 L320.48 216.46 L320.23 209.49 L319.98 206.46 L316.98 206.46 L316.73 207.08 L316.48 207.08 L316.23 195.83 L313.48 195.83 L313.23 196.74 L312.98 198.68 L312.73 200.21 L311.98 200.21 L311.73 209.58 L311.48 209.58 L311.23 200.77 L310.98 198.96 L305.23 198.96 L304.98 202.71 L304.73 206.6 L304.48 207.71 L301.73 207.71 L301.48 213.33 L301.23 213.33 L300.98 211.01 L300.73 209.55 L300.48 208.96 L297.23 208.96 L296.98 209.48 L296.73 210.59 L296.48 211.46 L295.23 211.46 L294.73 215.83 L294.48 216.46 L293.23 216.46 L292.98 216.58 L292.73 217.08 L292.48 217.08 L292.23 206.46 L287.23 206.46 L286.98 220.21 L286.73 220.21 L286.48 206.46 L283.73 206.46 L283.48 207.31 L283.23 209.81 L282.98 210.21 L282.23 210.21 L281.98 213.96 L281.73 213.96 L281.48 212.71 L278.48 212.71 L278.23 217.08 L277.98 217.08 L277.73 197.71 L277.23 197.71 L276.73 195.52 L276.48 195.21 L275.48 195.21 L275.23 193.91 L274.98 191.14 L274.73 188.96 L271.73 188.96 L271.48 204.58 L271.23 204.58 L270.98 194.58 L267.73 194.58 L267.23 195.68 L266.98 195.83 L265.73 195.83 L264.98 196.46 L264.23 196.46 L263.98 212.71 L263.73 212.71 L263.48 207.71 L260.48 207.71 L260.23 210.21 L259.98 210.21 L259.73 206.46 L255.48 206.46 L255.23 213.96 L254.98 213.96 L254.73 208.96 L254.48 207.51 L253.98 201.95 L253.73 201.76 L247.48 201.76 L247.23 204.83 L246.98 217.96 L246.73 217.96 L246.48 207.02 L246.23 201.76 L242.73 201.76 L242.48 218.56 L242.23 218.56 L241.98 190.96 L238.98 190.96 L238.73 196.26 L238.48 201.76 L237.48 201.76 L237.23 207.16 L236.98 207.16 L236.73 200.91 L236.48 197.25 L236.23 193.96 L232.48 193.96 L232.23 194.75 L231.73 197.67 L231.48 198.16 L230.23 198.16 L229.98 199.84 L229.73 213.76 L229.48 213.76 L229.23 210.04 L228.98 208.14 L228.73 207.76 L227.23 207.76 L226.48 207.19 L222.98 207.16 L222.73 207.31 L222.23 209.39 L221.98 210.16 L220.73 210.16 L220.48 216.76 L220.23 216.76 L219.98 207.76 L216.98 207.76 L216.48 211.06 L216.23 211.36 L214.98 211.36 L214.23 214.96 L212.73 214.96 L212.48 215.81 L212.23 222.16 L211.98 222.16 L211.73 210.56 L211.48 203.9 L211.23 202.96 L207.73 202.96 L207.48 203.16 L206.73 205.16 L206.48 205.36 L204.23 205.36 L203.98 200.59 L203.73 196.96 L201.23 196.96 L200.98 216.16 L200.73 216.16 L200.48 206.15 L200.23 200.47 L199.98 198.16 L196.73 198.16 L196.48 211.96 L196.23 211.96 L195.98 209.04 L195.73 208.36 L194.48 208.36 L194.23 207.88 L193.98 207.05 L193.73 206.56 L192.73 206.56 L192.48 205.1 L192.23 201.21 L191.98 198.16 L189.23 198.16 L188.98 205.96 L188.73 205.96 L188.48 201.76 L186.73 201.75 L185.98 201.25 L185.73 201.16 L183.98 201.16 L183.73 199.8 L183.48 198.34 L183.23 196.96 L180.23 196.96 L179.98 197.07 L179.73 204.57 L179.48 207.76 L178.73 207.76 L178.48 211.36 L178.23 211.36 L177.98 206.56 L176.98 206.56 L176.48 201.08 L176.23 200.56 L173.23 200.56 L172.98 201.85 L172.73 203.52 L172.48 204.16 L171.23 204.16 L170.98 205.23 L170.73 208.36 L170.48 208.36 L170.23 205.36 L167.23 205.36 L166.98 206.01 L166.73 206.84 L166.48 207.16 L165.98 207.16 L165.73 212.56 L165.48 212.56 L165.23 205.36 L163.23 205.36 L162.98 208.96 L162.73 208.96 L162.48 196.96 L161.48 196.96 L161.23 195.37 L160.23 195.37Z" clip-path="url(#c0)" fill="#1f77b4" stroke="#1f77b4" stroke-width="2.083" stroke-linejoin="round"/>
<line x1="202.5" y1="237.50" x2="202.5" y2="242.50" stroke="#000" stroke-width="1"/>
<text transform="translate(169.991 274.537) rotate(-30)" textLength="35.012">2020</text>
<line x1="285.5" y1="237.50" x2="285.5" y2="242.50" stroke="#000" stroke-width="1"/>
<text transform="translate(252.950 274.537) rotate(-30)" textLength="35.012">2030</text>
<line x1="368.5" y1="237.50" x2="368.5" y2="242.50" stroke="#000" stroke-width="1"/>
<text transform="translate(335.886 274.537) rotate(-30)" textLength="35.012">2040</text>
<line x1="451.5" y1="237.50" x2="451.5" y2="242.50" stroke="#000" stroke-width="1"/>
<text transform="translate(418.844 274.537) rotate(-30)" textLength="35.012">2050</text>
<line x1="534.5" y1="237.50" x2="534.5" y2="242.50" stroke="#000" stroke-width="1"/>
<text transform="translate(501.780 274.537) rotate(-30)" textLength="35.012">2060</text>
<line x1="617.5" y1="237.50" x2="617.5" y2="242.50" stroke="#000" stroke-width="1"/>
<text transform="translate(584.738 274.537) rotate(-30)" textLength="35.012">2070</text>
<line x1="700.5" y1="237.50" x2="700.5" y2="242.50" stroke="#000" stroke-width="1"/>
<text transform="translate(667.674 274.537) rotate(-30)" textLength="35.012">2080</text>
<line x1="783.5" y1="237.50" x2="783.5" y2="242.50" stroke="#000" stroke-width="1"/>
<text transform="translate(750.633 274.537) rotate(-30)" textLength="35.012">2090</text>
<line x1="866.5" y1="237.50" x2="866.5" y2="242.50" stroke="#000" stroke-width="1"/>
<text transform="translate(833.569 274.537) rotate(-30)" textLength="35.012">2100</text>
<line x1="120.50" y1="215.5" x2="125.50" y2="215.5" stroke="#000" stroke-width="1"/>
<text x="82.285" y="220.508" textLength="32.492">−2.5</text>
<line x1="120.50" y1="179.5" x2="125.50" y2="179.5" stroke="#000" stroke-width="1"/>
<text x="94.211" y="183.845" textLength="20.567">0.0</text>
<line x1="120.50" y1="143.5" x2="125.50" y2="143.5" stroke="#000" stroke-width="1"/>
<text x="93.211" y="148.081" textLength="22.067">2.5</text>
<text transform="translate(72.108 214.165) rotate(-90) scale(0.99351 1)">fieldmean</text>
<rect x="125.5" y="120.5" width="775.0" height="117.0" fill="none" stroke="#000" stroke-width="1.111" stroke-linejoin="miter"/>
<text x="290.758" y="111.667" font-size="16.667" textLength="442.283">ua250m, lev=0, 20141216T1200 to 20991124T1200</text>
</g>
<g id="axes2">
<rect x="125.000" y="260.690" width="775.000" height="117.241" fill="#ffffff"/>
<path d="M160.23 269.79 L161.48 269.79 L161.73 270.29 L161.98 270.42 L165.73 270.42 L165.98 270.24 L166.48 269.57 L166.73 269.17 L166.98 269.17 L167.23 269.54 L168.48 269.54 L168.73 269.83 L169.23 271.25 L169.48 271.67 L176.23 271.67 L176.48 271.27 L176.73 268.77 L176.98 267.92 L177.98 267.92 L178.48 267.74 L178.73 267.54 L178.98 267.54 L179.23 270.42 L179.98 270.42 L180.98 270.77 L184.73 270.79 L184.98 270.04 L185.23 270.04 L185.48 271.35 L185.73 271.67 L187.23 271.67 L187.73 271.84 L188.23 272.04 L191.48 272.04 L191.73 270.42 L191.98 270.42 L192.23 272.29 L193.23 272.29 L193.48 272.37 L193.98 272.92 L197.23 272.92 L197.48 272.48 L197.73 271.93 L197.98 271.67 L199.23 271.67 L199.48 271.5 L199.73 271.08 L199.98 270.42 L200.23 270.42 L200.48 272.04 L203.48 272.04 L203.98 271.74 L204.48 271.67 L205.48 271.67 L205.98 271.49 L206.23 271.29 L206.48 271.29 L206.73 272.29 L208.98 272.29 L209.23 269.54 L209.48 269.54 L209.73 272.04 L210.23 272.04 L210.73 272.44 L210.98 272.54 L212.23 272.59 L212.73 272.92 L215.98 272.92 L216.23 271.91 L216.48 270.64 L216.73 270.04 L218.23 270.01 L218.73 269.11 L218.98 268.54 L219.23 268.54 L219.48 269.79 L219.98 269.79 L220.23 270.78 L220.48 272.04 L223.48 272.04 L223.98 271.74 L224.48 271.67 L225.23 271.67 L225.48 271.51 L225.98 270.42 L227.23 270.42 L227.48 268.79 L227.73 268.79 L227.98 269.79 L228.98 269.79 L229.23 270.14 L229.48 270.58 L229.73 270.79 L230.73 270.79 L230.98 270.85 L231.48 271.29 L232.73 271.29 L233.23 271.59 L233.73 271.67 L234.73 271.67 L234.98 271.75 L235.48 272.17 L235.73 272.29 L236.98 272.29 L237.23 272.37 L237.73 272.92 L240.73 272.92 L240.98 271.43 L241.23 269.54 L242.73 269.54 L242.98 269.98 L243.23 270.53 L243.48 270.79 L244.48 270.79 L244.73 271.11 L245.23 273.29 L248.48 273.29 L248.98 272.99 L249.48 272.92 L249.73 272.92 L249.98 269.17 L250.23 269.17 L250.48 271.67 L253.48 271.67 L253.73 271.04 L253.98 271.04 L254.23 272.05 L254.48 272.29 L257.73 272.29 L257.98 270.04 L258.23 270.04 L258.48 271.04 L259.73 271.04 L259.98 271.13 L260.48 271.54 L260.73 271.67 L264.23 271.67 L264.48 271.55 L264.98 270.96 L265.23 270.79 L266.48 270.79 L266.73 270.04 L266.98 270.04 L267.23 271.67 L268.23 271.67 L268.48 271.75 L268.98 272.29 L270.23 272.29 L270.73 272.79 L270.98 272.92 L273.98 272.92 L274.23 269.54 L274.48 269.54 L274.73 269.86 L274.98 270.03 L276.48 270.04 L276.73 270.39 L276.98 270.83 L277.23 271.04 L280.23 271.02 L280.48 270.85 L281.23 270.79 L281.73 270.74 L282.23 270.42 L283.48 270.42 L283.73 270.11 L283.98 269.72 L284.23 269.54 L285.23 269.54 L285.48 268.54 L285.73 268.54 L285.98 271.04 L286.98 271.04 L287.23 271.2 L287.73 272.29 L291.23 272.29 L291.48 271.46 L291.73 269.54 L291.98 269.54 L292.23 270.79 L295.48 270.79 L295.73 270.69 L296.23 270.19 L296.48 270.04 L297.98 270.04 L298.23 269.75 L298.48 269.04 L298.73 267.92 L298.98 267.92 L299.23 269.79 L300.23 269.79 L300.48 270.14 L300.73 270.58 L300.98 270.79 L304.23 270.79 L304.48 270.69 L304.98 270.19 L305.23 270.04 L306.48 270.04 L306.73 269.85 L307.23 268.54 L308.48 268.54 L308.73 268.88 L309.23 270.55 L309.48 271.04 L311.23 271.08 L311.98 271.29 L315.48 271.29 L315.73 271.22 L316.23 270.89 L316.48 270.79 L317.98 270.74 L318.48 270.42 L319.73 270.42 L319.98 269.85 L320.23 269.13 L320.48 268.79 L322.23 268.76 L322.98 268.54 L323.23 268.54 L323.48 269.73 L323.73 270.36 L324.48 270.42 L325.48 270.42 L326.23 271.02 L329.98 271.04 L330.23 270.36 L330.48 268.79 L330.73 268.79 L330.98 270.42 L332.23 270.42 L332.73 270.59 L333.23 270.79 L334.73 270.79 L334.98 270.91 L335.48 271.49 L335.73 271.67 L337.23 271.67 L337.48 271.75 L337.98 272.17 L338.23 272.29 L341.73 272.29 L341.98 272.16 L342.48 271.49 L342.73 271.29 L344.23 271.29 L344.48 271.17 L344.73 270.88 L344.98 270.42 L345.23 270.42 L345.48 272.42 L345.73 272.92 L349.23 272.92 L349.48 272.8 L349.98 272.21 L350.23 272.04 L351.73 272.04 L352.23 271.87 L352.48 271.67 L352.73 271.67 L352.98 271.97 L353.48 272.04 L356.73 272.04 L356.98 271.77 L357.48 270.44 L357.73 270.04 L359.23 270.04 L359.48 269.97 L359.73 269.81 L359.98 269.54 L360.23 269.54 L360.48 271.25 L360.73 271.67 L364.48 271.67 L364.73 271.22 L365.23 269.55 L365.48 268.54 L365.73 268.54 L365.98 270.79 L368.98 270.79 L369.23 270.74 L369.73 270.42 L370.98 270.42 L371.23 267.04 L371.48 267.04 L371.73 270.04 L372.98 270.04 L373.73 270.41 L375.48 270.42 L376.23 271.63 L377.73 271.67 L377.98 272.1 L378.23 272.66 L378.48 272.92 L381.48 272.92 L381.73 272.76 L382.23 271.67 L383.48 271.67 L383.73 268.54 L383.98 268.54 L384.23 270.55 L384.48 271.04 L385.98 271.04 L386.23 271.13 L386.73 271.54 L386.98 271.67 L390.48 271.67 L390.73 271.24 L391.23 269.16 L391.48 268.54 L392.98 268.54 L393.23 269.49 L393.73 271.57 L393.98 271.67 L397.23 271.67 L397.48 271.36 L397.73 270.97 L397.98 270.79 L398.98 270.79 L399.23 270.51 L399.73 268.54 L401.48 268.54 L401.73 268.89 L401.98 269.33 L402.23 269.54 L403.23 269.57 L403.48 269.73 L404.23 269.79 L406.73 269.79 L406.98 269.71 L407.48 269.29 L407.73 269.17 L409.23 269.17 L409.48 268.95 L409.73 268.4 L409.98 267.54 L410.23 267.54 L410.48 271.67 L413.73 271.67 L414.48 270.82 L415.98 270.79 L416.23 270.42 L416.48 270.42 L416.73 271.42 L416.98 271.67 L418.48 271.67 L418.73 271.75 L419.23 272.17 L419.48 272.29 L422.98 272.29 L423.23 271.98 L423.73 270.48 L423.98 270.04 L425.23 270.04 L425.48 269.17 L425.73 269.17 L425.98 270.36 L426.23 270.98 L426.98 271.04 L429.73 271.04 L430.48 270.79 L431.48 270.79 L431.73 270.63 L432.23 269.54 L433.48 269.54 L433.73 267.92 L433.98 267.92 L434.23 270.23 L434.48 270.79 L437.98 270.79 L438.48 270.62 L438.98 270.42 L440.23 270.42 L440.48 267.54 L440.73 267.54 L440.98 268.29 L442.23 268.29 L442.48 268.58 L442.98 270 L443.23 270.42 L444.48 270.42 L444.73 270.57 L445.23 271.67 L448.48 271.67 L448.73 269.17 L448.98 269.17 L449.23 271.04 L450.48 271.04 L451.23 272.86 L451.98 272.92 L454.98 272.92 L455.73 271.1 L456.48 271.04 L457.23 271.04 L457.48 269.17 L457.73 269.17 L457.98 270.17 L458.23 270.42 L459.73 270.42 L460.23 270.59 L460.73 270.79 L464.23 270.79 L464.48 270.48 L464.73 269.73 L464.98 268.54 L465.23 268.54 L465.48 269.34 L465.73 269.54 L467.23 269.54 L467.48 269.66 L467.98 270.24 L468.23 270.42 L469.73 270.42 L470.23 270.59 L470.73 270.79 L473.98 270.79 L474.23 269.17 L474.48 269.17 L474.73 272.92 L477.98 272.92 L478.23 272.83 L478.73 272.41 L478.98 272.29 L480.23 272.29 L480.48 271.9 L480.98 269.17 L482.48 269.17 L482.73 268.9 L482.98 268.29 L483.23 268.29 L483.48 270.42 L485.98 270.42 L486.23 268.54 L486.48 268.54 L486.73 273.29 L489.73 273.29 L489.98 271.85 L490.23 270.02 L490.48 269.17 L491.73 269.17 L491.98 269.08 L492.23 268.87 L492.48 268.54 L492.73 268.54 L492.98 269.75 L493.23 270.04 L496.73 270.04 L496.98 269.97 L497.48 269.64 L497.73 269.54 L498.98 269.54 L499.23 268.29 L499.48 268.29 L499.73 269.25 L499.98 269.75 L501.48 269.79 L501.73 270.14 L501.98 270.58 L502.23 270.79 L505.48 270.79 L505.73 270.62 L505.98 270.2 L506.23 269.54 L506.48 269.54 L506.73 270.42 L509.98 270.42 L510.23 269.66 L510.48 267.92 L510.73 267.92 L510.98 268.95 L511.23 269.49 L512.48 269.54 L514.73 269.54 L514.98 268.54 L515.23 268.54 L515.48 270.55 L515.73 271.04 L517.23 271.04 L517.48 271.13 L517.98 271.54 L518.23 271.67 L521.73 271.67 L521.98 271.58 L522.48 271.16 L522.73 271.04 L524.48 271.01 L525.23 270.79 L526.73 270.79 L526.98 270.66 L527.23 270.32 L527.48 269.79 L527.73 269.79 L527.98 270.29 L528.23 270.42 L531.48 270.42 L531.73 267.54 L531.98 267.54 L532.23 267.92 L532.98 267.92 L533.23 268.38 L533.48 271.3 L533.73 272.29 L534.73 272.29 L534.98 272.38 L535.48 272.79 L535.73 272.92 L538.98 272.92 L539.23 272.49 L539.73 269.54 L540.98 269.54 L541.23 268.54 L541.48 268.54 L541.73 270.79 L544.98 270.79 L545.23 270.56 L545.48 270.04 L545.73 270.04 L545.98 271.04 L548.98 271.04 L549.23 268.54 L549.48 268.54 L549.73 270.42 L552.98 270.42 L553.48 270.24 L553.98 270.04 L555.48 270.04 L555.73 269.97 L556.23 269.64 L556.48 269.54 L557.73 269.54 L557.98 269.45 L558.48 268.79 L559.98 268.79 L560.23 268.64 L560.48 268.29 L560.73 268.29 L560.98 269.54 L562.23 269.54 L562.48 269.61 L562.98 269.94 L563.23 270.04 L566.48 270.04 L566.73 267.04 L566.98 267.04 L567.23 271.04 L568.23 271.04 L568.48 271.2 L568.98 272.29 L572.23 272.29 L572.48 268.79 L572.73 268.79 L572.98 269.79 L573.98 269.79 L574.23 270.31 L574.48 270.98 L574.73 271.29 L577.98 271.29 L578.23 271.22 L578.73 270.89 L578.98 270.79 L580.48 270.79 L580.73 270.62 L581.23 269.79 L581.48 269.54 L582.98 269.54 L583.23 269.41 L583.48 269.07 L583.73 268.54 L583.98 268.54 L584.23 270.04 L585.48 270.04 L585.98 271.31 L586.23 271.98 L586.73 272.04 L589.73 272.04 L589.98 268.54 L590.23 268.54 L590.48 270.04 L591.48 270.04 L591.73 270.61 L591.98 271.33 L592.23 271.67 L595.48 271.67 L595.73 271.5 L596.23 270.66 L596.48 270.42 L597.98 270.42 L598.48 270.24 L598.98 270.04 L600.48 270.04 L600.73 269.92 L600.98 269.63 L601.23 269.17 L601.48 269.17 L601.73 269.67 L601.98 269.79 L605.23 269.79 L605.48 267.92 L605.73 267.92 L605.98 268.54 L608.98 268.54 L609.23 268.29 L609.48 268.29 L609.73 270.42 L612.98 270.42 L613.48 270.24 L613.98 270.04 L615.48 270.04 L615.73 269.92 L615.98 269.63 L616.23 269.17 L616.48 269.17 L616.73 270.67 L616.98 271.04 L618.48 271.04 L618.73 271.13 L619.23 271.54 L619.48 271.67 L622.98 271.67 L623.23 271.55 L623.73 270.96 L623.98 270.79 L625.48 270.79 L625.98 270.62 L626.48 270.42 L627.73 270.42 L627.98 267.92 L628.23 267.92 L628.48 270.04 L631.73 270.04 L631.98 269.84 L632.23 269.34 L632.48 268.54 L632.73 268.54 L632.98 269.17 L633.98 269.17 L634.23 270.04 L634.48 271.15 L634.73 271.67 L637.98 271.67 L638.23 271.58 L638.73 271.16 L638.98 271.04 L640.48 271.04 L640.73 270.96 L640.98 270.75 L641.23 270.42 L641.48 270.42 L641.73 270.72 L642.23 270.79 L643.73 270.83 L644.48 271.04 L647.98 271.04 L648.23 270.96 L648.73 270.54 L648.98 270.42 L650.73 270.42 L650.98 270.06 L651.48 268.73 L651.73 267.92 L651.98 267.92 L652.23 269.17 L652.98 269.17 L653.23 269.23 L653.48 269.65 L653.73 269.79 L656.98 269.79 L657.23 270.03 L657.73 271.67 L660.98 271.67 L661.23 271.23 L661.48 270.68 L661.73 270.42 L662.98 270.42 L663.23 270.13 L663.48 269.42 L663.73 268.29 L663.98 268.29 L664.23 269.17 L667.23 269.17 L667.48 268.29 L667.73 268.29 L667.98 271.67 L668.98 271.67 L669.48 272.16 L669.73 272.29 L672.98 272.29 L673.23 271.78 L673.48 270.53 L673.73 268.54 L673.98 268.54 L674.23 270.79 L675.48 270.79 L676.23 271.03 L679.98 271.04 L680.23 270.09 L680.48 267.92 L680.73 267.92 L680.98 269.17 L682.23 269.17 L682.48 269.68 L682.98 272.18 L683.23 272.92 L686.73 272.92 L686.98 272.75 L687.48 271.91 L687.73 271.67 L688.98 271.67 L689.23 271.56 L689.73 270.79 L690.98 270.79 L691.23 268.54 L691.48 268.54 L691.73 271.04 L694.98 271.04 L695.73 270.44 L697.48 270.42 L697.73 270.04 L697.98 269.17 L698.23 269.17 L698.48 269.56 L698.73 269.77 L700.48 269.79 L701.23 270.03 L702.98 270.04 L703.73 270.77 L707.48 270.79 L708.23 270.43 L709.98 270.42 L710.73 270.05 L712.48 270.04 L713.23 269.56 L714.98 269.54 L715.23 269.31 L715.48 268.79 L715.73 268.79 L715.98 269.83 L716.23 270.37 L717.48 270.42 L717.98 270.42 L718.73 270.78 L720.48 270.79 L721.23 271.03 L722.98 271.04 L723.73 271.65 L727.48 271.67 L727.98 270.08 L728.23 269.24 L728.73 269.17 L729.73 269.17 L730.23 268.67 L730.48 268.54 L731.98 268.54 L732.23 268.36 L732.73 267.7 L732.98 267.29 L733.23 267.29 L733.48 270.04 L734.73 270.04 L735.23 270.22 L735.73 270.42 L739.23 270.42 L739.48 270.2 L739.73 269.65 L739.98 268.79 L740.23 268.79 L740.48 269.59 L740.73 269.79 L742.23 269.79 L742.48 270.13 L742.98 271.8 L743.23 272.29 L746.73 272.29 L746.98 272.04 L747.23 271.41 L747.48 270.42 L747.73 270.42 L747.98 270.72 L748.48 270.79 L751.73 270.79 L751.98 270.57 L752.23 270.03 L752.48 269.17 L752.73 269.17 L752.98 269.87 L753.23 270.04 L756.73 270.04 L756.98 269.97 L757.48 269.64 L757.73 269.54 L758.98 269.54 L759.23 269.17 L759.48 269.17 L759.73 270.36 L759.98 270.98 L760.73 271.04 L763.73 271.04 L763.98 270.85 L764.23 270.42 L764.48 270.42 L764.73 270.66 L764.98 270.78 L768.73 270.79 L769.48 270.43 L771.23 270.42 L771.48 269.85 L771.73 268.54 L771.98 268.54 L772.23 268.94 L772.48 269.15 L774.23 269.17 L774.98 269.77 L778.98 269.78 L779.73 268.58 L779.98 268.29 L780.23 268.29 L780.48 270.79 L781.73 270.79 L782.48 271.64 L784.23 271.67 L784.98 272.88 L788.73 272.92 L788.98 271.89 L789.23 269.54 L789.48 269.54 L789.73 269.86 L789.98 270.03 L791.73 270.04 L792.48 271.62 L793.73 271.67 L796.23 271.67 L796.98 269.85 L797.73 269.79 L798.48 269.79 L798.73 269.54 L798.98 269.54 L799.23 271.25 L799.48 271.67 L802.98 271.67 L803.23 271.5 L803.73 270.66 L803.98 270.42 L805.23 270.42 L805.48 268.79 L805.73 268.79 L805.98 270.22 L806.23 270.97 L806.73 271.04 L807.98 271.04 L808.73 271.65 L812.48 271.67 L812.73 271.02 L812.98 269.54 L813.23 269.54 L813.73 269.78 L815.23 269.79 L815.48 270.23 L815.73 270.78 L815.98 271.04 L818.73 271.04 L818.98 268.54 L819.23 268.54 L819.48 269.79 L821.23 269.83 L821.98 270.04 L823.48 270.04 L823.73 270.26 L824.23 271.35 L824.48 271.67 L827.98 271.67 L828.23 271.33 L828.73 269.66 L828.98 269.17 L830.48 269.17 L830.98 268.99 L831.23 268.79 L831.48 268.79 L831.73 271.6 L831.98 272.29 L835.48 272.29 L835.73 272.04 L836.23 270.79 L836.48 270.42 L838.23 270.42 L838.48 270.06 L838.98 268.73 L839.23 267.92 L839.48 267.92 L839.73 269.11 L839.98 269.73 L840.73 269.79 L841.73 269.79 L842.48 271.61 L843.23 271.67 L846.23 271.67 L846.48 270.8 L846.73 268.79 L846.98 268.79 L847.23 269.83 L847.48 270.37 L848.73 270.42 L849.23 270.42 L849.98 271.02 L853.73 271.04 L853.98 270.36 L854.23 268.79 L854.48 268.79 L854.73 269.27 L854.98 269.52 L856.73 269.54 L857.48 270.39 L859.23 270.42 L859.98 270.78 L863.73 270.79 L863.98 270.41 L864.23 269.54 L864.73 269.54 L864.73 293.96 L863.23 293.96 L862.98 309.58 L862.73 309.58 L862.48 302.71 L861.98 302.08 L859.48 302.08 L859.23 329.58 L858.98 329.58 L858.73 303.96 L858.23 303.96 L857.98 302.54 L857.73 298.37 L857.48 297.71 L856.98 297.71 L856.73 296 L856.48 291 L856.23 290.21 L854.23 290.21 L853.98 300.21 L853.73 300.21 L853.48 297.71 L852.48 297.71 L852.23 294.2 L851.98 291.46 L849.73 291.46 L849.48 301.46 L849.23 301.46 L848.98 300.83 L848.73 300.83 L848.48 294.18 L848.23 288.96 L845.98 288.96 L845.73 300.83 L845.48 300.83 L845.23 300.21 L844.98 300.21 L844.73 295.3 L844.48 291.46 L841.98 291.46 L841.73 352.08 L841.48 352.08 L841.23 315.83 L840.98 314.78 L840.73 313.96 L839.98 313.96 L839.73 300.64 L839.48 290.21 L836.48 290.21 L835.98 292.39 L835.73 292.71 L834.98 292.71 L834.73 296.69 L834.48 308.35 L834.23 310.21 L833.48 310.21 L833.23 310.41 L832.98 314.58 L832.73 314.58 L832.48 302.71 L831.98 302.08 L830.98 302.08 L830.48 301.54 L830.23 301.46 L829.23 301.46 L828.98 300.94 L828.73 299.83 L828.48 298.96 L827.23 298.96 L826.73 294.59 L826.48 293.96 L823.98 293.96 L823.73 332.46 L823.48 332.46 L823.23 310.21 L822.98 310.21 L822.73 297.25 L822.48 287.71 L820.23 287.71 L819.98 289.87 L819.73 295.21 L819.23 295.21 L818.98 295.91 L818.73 296.46 L817.98 296.46 L817.73 302.77 L817.48 307.71 L816.73 307.71 L816.48 311.46 L816.23 311.46 L815.98 302.71 L814.98 302.71 L814.73 302.61 L814.48 302.29 L814.23 302.08 L811.73 302.08 L811.48 307.08 L811.23 307.08 L810.98 303.96 L807.98 303.96 L807.73 310.97 L807.48 316.46 L806.73 316.46 L806.48 338.96 L806.23 338.96 L805.98 305.21 L805.73 305.21 L805.48 303.22 L805.23 297.39 L804.98 296.46 L804.23 296.46 L803.98 295.08 L803.73 293.96 L800.98 293.96 L800.73 305.21 L800.48 305.21 L800.23 303.33 L798.98 303.33 L798.73 298.36 L798.48 292.27 L798.23 291.46 L795.23 291.46 L794.73 294.73 L794.48 295.21 L793.48 295.21 L793.23 295.47 L792.98 296.02 L792.73 296.46 L792.23 296.46 L791.98 332.08 L791.73 332.08 L791.48 316.46 L790.98 316.46 L790.73 300.48 L790.48 297.08 L789.73 297.08 L789.23 296.54 L788.98 296.46 L787.98 296.46 L787.73 293.71 L787.48 291.46 L784.73 291.46 L784.48 319.58 L784.23 319.58 L783.98 307.82 L783.73 301.46 L780.73 301.46 L780.48 301.58 L779.98 302 L779.73 302.08 L779.23 302.08 L778.98 304.58 L778.73 304.58 L778.48 301.46 L777.23 301.46 L776.73 300.91 L776.48 300.83 L775.48 300.83 L775.23 300.32 L774.98 299.2 L774.73 298.33 L773.48 298.33 L772.98 297.24 L772.73 297.08 L769.73 297.08 L769.48 297.73 L769.23 299.12 L768.98 300.21 L768.23 300.21 L767.98 338.33 L767.73 338.33 L767.48 316.46 L767.23 316.46 L766.98 316.32 L766.73 315.9 L766.48 315.83 L765.73 315.83 L765.48 309.3 L765.23 303.96 L764.23 303.96 L763.98 298.45 L763.73 293.96 L760.98 293.96 L760.73 297.65 L760.48 308.48 L760.23 310.21 L759.48 310.21 L759.23 332.08 L758.98 332.08 L758.73 316.46 L758.23 316.46 L757.98 313.05 L757.73 303.05 L757.48 301.46 L756.98 301.46 L756.73 300.18 L756.48 296.43 L756.23 295.83 L753.48 295.83 L753.23 296.74 L752.98 298.68 L752.73 300.21 L751.98 300.21 L751.73 348.96 L751.48 348.96 L751.23 312.71 L750.98 312.71 L750.73 312.57 L750.48 312.15 L750.23 312.08 L749.48 312.08 L749.23 305.55 L748.98 300.21 L745.98 300.21 L745.73 300.9 L745.48 301.46 L744.48 301.46 L744.23 304.07 L743.98 307.28 L743.73 307.71 L742.98 307.71 L742.73 312.71 L742.48 312.71 L742.23 303.96 L741.23 303.96 L740.98 299.75 L740.73 296.46 L739.73 296.46 L739.23 292.09 L738.98 291.46 L736.23 291.46 L735.98 292.88 L735.73 297.05 L735.48 297.71 L734.73 297.71 L734.48 310.83 L734.23 310.83 L733.98 290.21 L732.98 290.21 L732.73 289.69 L732.48 288.58 L732.23 287.71 L729.48 287.71 L729.23 292.48 L728.98 306.46 L728.73 306.46 L728.48 304.66 L728.23 303.96 L725.48 303.96 L725.23 340.83 L724.98 340.83 L724.73 326.46 L724.23 326.46 L723.98 313.5 L723.73 303.96 L723.23 303.96 L722.98 303.39 L722.73 301.72 L722.48 301.46 L718.23 301.46 L717.98 322.71 L717.73 322.71 L717.48 312.71 L716.98 312.71 L716.73 309.3 L716.48 299.3 L716.23 297.71 L715.73 297.71 L715.48 296.86 L715.23 294.36 L714.98 293.96 L714.23 293.96 L713.98 291.55 L713.73 289.58 L710.98 289.58 L710.73 290.86 L710.48 294.61 L710.23 295.21 L709.73 295.21 L709.48 343.33 L709.23 343.33 L708.98 327.71 L708.73 298.48 L708.48 297.71 L706.23 297.71 L705.98 293.96 L704.73 293.96 L704.48 293.05 L704.23 291.58 L703.98 290.21 L700.73 290.21 L700.48 291.25 L700.23 292.54 L699.98 292.71 L699.23 292.71 L698.98 293.33 L698.73 293.33 L698.48 291.46 L695.23 291.46 L694.73 292.55 L694.48 292.71 L693.98 292.71 L693.73 333.96 L693.48 333.96 L693.23 303.96 L692.48 303.96 L692.23 298.35 L691.98 293.96 L689.23 293.96 L688.98 295.71 L688.73 297.08 L687.98 297.08 L687.73 297.71 L687.48 297.71 L687.23 296.46 L684.48 296.46 L684.23 306.46 L683.98 306.46 L683.73 297.71 L683.48 295.61 L683.23 293.96 L682.48 293.96 L682.23 291.51 L681.98 289.58 L679.23 289.58 L678.98 290.29 L678.73 292.54 L678.48 293.96 L677.98 293.96 L677.73 303.33 L677.48 303.33 L677.23 302.34 L676.98 301.71 L676.73 301.46 L673.23 301.46 L672.98 301.58 L672.73 302.08 L672.48 302.08 L672.23 299.58 L668.98 299.58 L668.48 301.22 L668.23 301.46 L667.23 301.46 L666.98 301.72 L666.73 302.27 L666.48 302.71 L665.98 302.71 L665.73 319.58 L665.48 319.58 L665.23 301.46 L664.98 301.46 L664.73 300.06 L664.48 298.96 L662.23 298.96 L661.98 307.71 L661.73 307.71 L661.48 299.58 L661.23 299.58 L660.73 298.96 L658.23 298.96 L657.98 304.58 L657.73 304.58 L657.48 303.96 L656.73 303.96 L656.48 297.48 L656.23 292.71 L653.48 292.71 L653.23 318.96 L652.98 318.96 L652.73 301.46 L652.48 301.46 L652.23 300.76 L651.98 300.21 L649.73 300.21 L649.48 325.83 L649.23 325.83 L648.98 295.68 L648.73 289.58 L646.23 289.58 L645.98 291.71 L645.73 297.96 L645.48 298.96 L644.73 298.96 L644.48 299.58 L644.23 299.58 L643.98 296.46 L641.73 296.46 L641.48 332.08 L641.23 332.08 L640.98 297.08 L640.73 297.08 L640.48 296.94 L640.23 296.52 L639.98 296.46 L639.23 296.46 L638.98 293.71 L638.73 291.46 L635.98 291.46 L635.73 293.45 L635.48 299.28 L635.23 300.21 L634.73 300.21 L634.48 353.96 L634.23 353.96 L633.98 316.46 L633.73 296.17 L633.48 295.21 L631.23 295.21 L630.98 295.78 L630.73 297.44 L630.48 297.71 L627.23 297.71 L626.98 297.97 L626.73 298.52 L626.48 298.96 L625.23 298.96 L624.73 303.33 L624.48 303.96 L623.48 303.96 L623.23 306.46 L622.98 306.46 L622.73 300.21 L621.73 300.21 L621.48 299.56 L621.23 298.17 L620.98 297.08 L619.73 297.08 L619.23 295.45 L618.98 295.21 L617.98 295.21 L617.73 294.43 L617.48 292.77 L617.23 291.46 L615.98 291.46 L615.48 290.91 L615.23 290.83 L612.23 290.83 L611.98 290.96 L611.48 291.46 L610.23 291.46 L609.73 294.73 L609.48 295.21 L608.98 295.21 L608.73 330.21 L608.48 330.21 L608.23 308.96 L607.98 305.55 L607.73 295.55 L607.48 293.96 L604.73 293.96 L604.48 294.22 L604.23 294.77 L603.98 295.21 L602.98 295.21 L602.73 299.76 L602.48 303.33 L601.48 303.33 L600.98 304.43 L600.73 304.58 L599.73 304.58 L599.48 306.46 L599.23 306.46 L598.98 305.21 L598.48 305.21 L598.23 302.53 L597.98 299.75 L597.73 298.96 L594.73 298.96 L594.48 299.65 L594.23 300.21 L593.48 300.21 L593.23 350.21 L592.98 350.21 L592.73 306.46 L592.48 306.12 L592.23 305.42 L591.98 305.21 L591.23 305.21 L590.98 297.15 L590.73 290.83 L587.98 290.83 L587.73 294.69 L587.48 297.71 L586.73 297.71 L586.48 299.81 L586.23 301.46 L585.73 301.46 L585.48 310.21 L585.23 310.21 L584.98 306.46 L584.73 306.46 L584.48 292.03 L584.23 288.96 L581.73 288.96 L581.48 290.01 L581.23 290.83 L580.73 290.83 L579.98 290.89 L579.23 292.71 L577.73 292.71 L577.48 306.46 L577.23 306.46 L576.98 301.46 L575.98 301.46 L575.48 297.09 L575.23 296.46 L574.23 296.46 L573.98 295.68 L573.73 294.02 L573.48 292.71 L570.23 292.71 L569.73 297.08 L569.48 297.71 L568.48 297.71 L568.23 297.97 L567.98 298.52 L567.73 298.96 L566.73 298.96 L566.48 302.71 L566.23 302.71 L565.98 293.96 L564.98 293.96 L564.73 293.76 L564.48 293.11 L564.23 292.71 L561.23 292.71 L560.98 297.18 L560.73 300.83 L559.73 300.83 L559.48 300.96 L558.98 301.46 L557.98 301.46 L557.73 320.21 L557.48 320.21 L557.23 287.08 L554.98 287.08 L554.73 288.08 L554.48 290.99 L554.23 291.46 L553.48 291.46 L553.23 293.79 L552.98 298.79 L552.73 302.71 L551.98 302.71 L551.73 305.76 L551.48 311.46 L551.23 311.46 L550.98 323.33 L550.73 323.33 L550.48 301.46 L547.73 301.46 L547.23 302 L546.73 302.08 L546.48 309.58 L546.23 309.58 L545.98 304.58 L543.23 304.58 L542.73 305.17 L541.73 305.21 L541.48 308.01 L541.23 310.21 L540.98 310.21 L540.73 311.46 L540.48 311.46 L540.23 291.46 L537.98 291.46 L537.73 294.96 L537.48 297.71 L536.73 297.71 L536.48 297.58 L535.98 297.08 L534.73 297.08 L534.48 294.13 L534.23 291.08 L533.98 290.21 L529.48 290.21 L529.23 299.75 L528.98 300.21 L528.73 300.21 L528.48 301.06 L528.23 303.56 L527.98 303.96 L527.23 303.96 L526.98 304.48 L526.73 305.59 L526.48 306.46 L525.73 306.46 L525.48 372.08 L525.23 372.08 L524.98 303.96 L524.73 298.35 L524.48 293.96 L521.73 293.96 L521.48 296.06 L521.23 297.71 L520.23 297.71 L519.98 298.01 L519.48 298.96 L518.98 298.96 L518.73 316.21 L518.48 316.21 L518.23 303.33 L517.23 303.33 L516.73 302.79 L516.48 302.71 L515.73 302.71 L515.48 300.15 L515.23 292.65 L514.98 291.46 L511.73 291.46 L511.48 302.71 L511.23 302.71 L510.98 297.71 L507.98 297.71 L507.73 302.08 L507.48 302.08 L507.23 290.83 L504.73 290.83 L504.48 292.99 L504.23 294.58 L503.48 294.58 L503.23 294.71 L502.73 295.21 L501.73 295.21 L501.48 296.42 L501.23 300.27 L500.98 302.71 L500.73 302.71 L500.48 330.46 L500.23 330.46 L499.98 303.96 L499.73 302.77 L499.48 296.52 L499.23 296.46 L497.23 296.46 L496.98 303.33 L496.73 303.33 L496.48 298.54 L496.23 296.46 L492.98 296.46 L492.73 303.12 L492.48 308.33 L491.73 308.33 L491.48 308.96 L491.23 308.96 L490.98 293.96 L486.98 293.96 L486.73 299.71 L486.48 306.76 L486.23 307.71 L485.48 307.71 L485.23 309.33 L484.98 314.46 L484.73 317.71 L484.23 317.71 L483.98 344.58 L483.73 344.58 L483.48 336.46 L482.98 336.46 L482.73 325.8 L482.48 294.55 L482.23 289.58 L479.73 289.58 L479.48 293.54 L479.23 296.46 L478.48 296.46 L478.23 306.09 L477.98 313.96 L477.23 313.96 L476.98 326.46 L476.73 326.46 L476.48 301.46 L476.23 301.46 L475.98 300.06 L475.73 298.96 L474.98 298.96 L474.73 294.05 L474.48 290.21 L471.73 290.21 L471.48 293.01 L471.23 295.21 L470.98 295.21 L470.73 299.58 L470.48 299.58 L470.23 296.46 L468.23 296.46 L467.98 314.96 L467.73 314.96 L467.48 302.08 L466.98 302.08 L466.73 301.09 L466.48 298.17 L466.23 297.71 L465.48 297.71 L465.23 296.67 L464.98 294.45 L464.73 292.71 L461.73 292.71 L461.48 296.91 L461.23 300.21 L460.73 300.21 L460.48 316.46 L460.23 316.46 L459.98 306.46 L459.23 306.46 L458.98 301.64 L458.73 297.71 L455.98 297.71 L455.73 302.75 L455.48 306.46 L454.73 306.46 L454.48 306.72 L454.23 307.27 L453.98 307.71 L452.98 307.71 L452.73 308.72 L452.48 311.93 L452.23 313.96 L451.73 313.96 L451.48 331.46 L451.23 331.46 L450.98 315.21 L450.73 315.21 L450.48 305.13 L450.23 297.71 L449.73 297.71 L449.48 296.29 L449.23 292.12 L448.98 291.46 L446.48 291.46 L446.23 297.64 L445.98 298.96 L445.23 298.96 L444.73 300.05 L444.48 300.21 L443.48 300.21 L443.23 300.47 L442.98 301.02 L442.73 301.46 L442.23 301.46 L441.98 310.83 L441.73 310.83 L441.48 293.96 L438.73 293.96 L438.48 298.79 L438.23 312.95 L437.98 315.21 L436.48 315.21 L436.23 363.96 L435.98 363.96 L435.73 311.46 L435.48 311.46 L435.23 308.19 L434.98 298.61 L434.73 297.08 L434.23 297.08 L433.98 295.38 L433.73 290.38 L433.48 289.58 L430.98 289.58 L430.73 295.34 L430.48 299.58 L427.98 299.58 L427.73 300.63 L427.48 301.46 L427.23 301.46 L426.98 315.83 L426.73 315.83 L426.48 297.71 L425.73 297.71 L425.48 296.29 L425.23 292.12 L424.98 291.46 L422.23 291.46 L421.98 292.62 L421.73 295.12 L421.48 297.08 L418.73 297.08 L418.48 302.05 L418.23 316.64 L417.98 318.96 L417.73 318.96 L417.48 337.08 L417.23 337.08 L416.98 297.71 L416.73 297.71 L416.48 296 L416.23 291 L415.98 290.21 L413.48 290.21 L413.23 299.56 L412.98 306.46 L410.48 306.46 L410.23 309.26 L409.98 311.46 L409.48 311.46 L409.23 327.08 L408.98 327.08 L408.73 306.46 L408.23 306.46 L407.98 305.46 L407.73 302.55 L407.48 302.08 L405.48 302.08 L405.23 301.7 L404.98 300.86 L404.73 300.21 L403.73 300.21 L403.23 300.13 L402.98 299.3 L402.48 297.71 L401.23 297.71 L400.98 293.85 L400.73 290.83 L397.73 290.83 L397.48 293.25 L397.23 295.75 L396.98 296.46 L395.98 296.46 L395.73 297.23 L395.48 298.9 L395.23 300.21 L394.23 300.21 L393.98 300.82 L393.73 302.74 L393.48 303.96 L392.98 303.96 L392.73 313.33 L392.48 313.33 L392.23 300.83 L391.23 300.83 L390.73 300.21 L387.73 300.21 L387.48 303.43 L387.23 306.76 L386.98 307.71 L385.98 307.71 L385.73 308.36 L385.48 309.74 L385.23 310.83 L384.23 310.83 L383.98 311.46 L383.73 311.46 L383.48 302.08 L380.73 302.08 L380.48 302.33 L379.98 303.16 L379.73 303.33 L378.23 303.33 L377.98 303.46 L377.48 303.87 L377.23 303.96 L376.73 303.96 L376.48 330.83 L376.23 330.83 L375.98 306.46 L375.73 306.46 L375.48 306.17 L375.23 305.34 L374.98 305.21 L374.23 305.21 L373.98 304.56 L373.73 303.17 L373.48 302.08 L370.48 302.08 L370.23 302.59 L369.98 304.19 L369.73 305.21 L369.23 305.21 L368.98 316.46 L368.73 316.46 L368.48 308.96 L367.23 308.96 L366.73 304.59 L366.48 303.96 L365.48 303.96 L365.23 301.24 L364.98 295.41 L364.73 290.83 L361.73 290.83 L361.48 292.94 L361.23 294.58 L360.48 294.58 L360.23 295.21 L359.98 295.21 L359.73 290.83 L358.48 290.83 L357.98 289.74 L357.73 289.58 L354.48 289.58 L354.23 289.95 L353.73 291.2 L353.48 291.46 L352.98 291.46 L352.73 330.21 L352.48 330.21 L352.23 307.71 L351.23 307.71 L350.98 304.2 L350.73 301.46 L349.98 301.46 L349.73 299.01 L349.48 297.08 L345.98 297.12 L345.48 297.45 L344.98 297.71 L344.23 297.71 L343.98 313.96 L343.73 313.96 L343.48 297.71 L341.98 297.69 L341.23 297.08 L338.23 297.08 L337.98 300.35 L337.73 306.46 L337.48 340.21 L337.23 340.21 L336.98 306.46 L336.73 306.46 L336.48 301.42 L336.23 297.71 L333.48 297.71 L333.23 298.33 L332.98 298.33 L332.73 295.21 L329.48 295.21 L329.23 295.45 L328.73 296.29 L328.48 296.46 L328.23 296.46 L327.98 320.21 L327.73 320.21 L327.48 300.21 L327.23 298.81 L326.98 297.71 L326.23 297.71 L325.98 293.15 L325.73 289.58 L322.98 289.58 L322.73 291.34 L322.48 292.71 L321.48 292.71 L321.23 295.93 L320.98 299.26 L320.73 300.21 L319.98 300.21 L319.73 301.63 L319.48 305.8 L319.23 306.46 L318.98 306.46 L318.73 364.58 L318.48 364.58 L318.23 303.96 L317.73 303.96 L317.48 302.91 L317.23 301.63 L316.98 301.46 L316.23 301.46 L315.98 294.1 L315.73 288.33 L312.98 288.33 L312.48 288.96 L312.23 288.96 L311.98 327.08 L311.73 327.08 L311.48 316.46 L311.23 311.45 L310.98 302.08 L307.98 302.08 L307.23 302.71 L306.23 302.71 L305.98 308.11 L305.73 312.08 L304.98 312.08 L304.48 312.71 L304.23 312.71 L303.98 319.58 L303.73 319.58 L303.48 306.46 L302.23 306.46 L301.73 304.27 L301.48 303.96 L300.73 303.96 L300.48 301.12 L300.23 292.78 L299.98 291.46 L297.48 291.46 L297.23 293.45 L296.98 299.28 L296.73 300.21 L295.48 300.21 L295.23 299.69 L294.98 298.58 L294.73 297.71 L293.48 297.71 L292.98 295.52 L292.73 295.21 L289.98 295.21 L289.73 296.06 L289.48 298.56 L289.23 298.96 L288.23 298.96 L287.98 299.4 L287.73 301.21 L287.48 301.21 L287.23 300.21 L285.98 300.21 L285.48 298.02 L285.23 297.71 L284.23 297.71 L283.98 295.64 L283.73 293.96 L281.73 293.96 L281.48 311.21 L281.23 311.21 L280.98 309.58 L278.73 309.58 L278.48 308.96 L276.48 308.96 L276.23 329.58 L275.98 329.58 L275.73 297.71 L274.98 297.71 L274.73 295.66 L274.48 291.5 L274.23 290.21 L271.73 290.21 L271.48 307.51 L271.23 308.33 L270.98 308.33 L270.73 308.48 L270.48 308.89 L270.23 308.96 L269.98 320.21 L269.73 320.21 L269.48 300.21 L268.73 300.21 L268.48 299.51 L268.23 298.96 L267.23 298.96 L266.73 297.32 L266.48 297.08 L265.48 297.08 L265.23 296.95 L264.73 296.46 L261.98 296.46 L261.73 328.67 L261.48 330.21 L261.23 330.21 L260.98 330.49 L260.73 331.33 L260.48 331.46 L259.73 331.46 L259.48 333.33 L259.23 333.33 L258.98 308.81 L258.73 293.96 L256.23 293.96 L255.98 301.52 L255.73 307.08 L254.98 307.08 L254.48 307.71 L253.73 307.71 L253.48 308.84 L253.23 312.18 L252.98 312.71 L252.48 312.71 L252.23 312.85 L251.98 313.27 L251.48 313.33 L251.23 315.83 L250.98 315.83 L250.73 303.96 L250.48 296.76 L250.23 291.46 L249.48 291.46 L249.23 290.77 L248.98 290.21 L246.23 290.21 L245.98 294.47 L245.73 306.97 L245.48 308.96 L245.23 347.08 L244.98 347.08 L244.73 308.96 L244.23 308.96 L243.98 300.32 L243.73 293.96 L243.23 293.96 L242.98 293.53 L242.73 292.28 L242.48 292.08 L239.73 292.08 L239.48 292.47 L239.23 293.3 L238.98 293.96 L237.98 293.96 L237.73 294.36 L237.48 295.65 L237.23 296.46 L236.98 296.46 L236.73 323.33 L236.48 323.33 L236.23 315.21 L235.73 315.21 L235.48 304.41 L235.23 296.46 L234.73 296.46 L234.48 295.04 L234.23 290.87 L233.98 290.21 L231.23 290.21 L230.98 293.99 L230.73 297.08 L229.73 297.08 L229.23 297.71 L228.98 297.71 L228.73 332.08 L228.48 332.08 L228.23 322.71 L225.73 322.71 L225.48 328.96 L225.23 328.96 L224.98 306.46 L224.73 304.01 L224.48 302.08 L223.73 302.08 L223.23 301.46 L220.48 301.46 L220.23 303.21 L219.98 304.58 L219.48 304.58 L219.23 305.21 L218.98 305.21 L218.73 296.46 L216.73 296.46 L216.48 297.16 L216.23 297.71 L215.98 297.71 L215.73 317.08 L215.48 317.08 L215.23 297.71 L214.98 297.71 L214.73 295.61 L214.48 293.96 L210.23 293.96 L209.98 296.12 L209.73 301.46 L209.48 301.46 L209.23 302.08 L208.98 302.08 L208.73 292.08 L207.98 292.08 L207.73 291.95 L207.23 291.46 L204.48 291.46 L204.23 308.16 L203.98 308.96 L203.73 308.96 L203.48 309.38 L203.23 310.63 L202.98 310.83 L202.73 310.83 L202.48 312.08 L202.23 312.08 L201.98 295.21 L199.23 295.21 L198.98 305.21 L198.73 305.21 L198.48 304.58 L195.73 304.58 L195.48 320.83 L195.23 320.83 L194.98 301.46 L194.48 301.46 L194.23 300.46 L193.98 297.55 L193.73 297.08 L192.98 297.08 L192.73 296.95 L192.23 296.46 L191.23 296.46 L190.98 294.01 L190.73 292.08 L188.23 292.08 L187.98 294.04 L187.73 297.71 L187.48 343.33 L187.23 343.33 L186.98 306.46 L186.73 306.46 L186.48 300.7 L186.23 296.46 L185.48 296.46 L185.23 295.81 L184.98 294.42 L184.73 293.33 L183.48 293.33 L182.98 292.79 L182.73 292.71 L179.98 292.71 L179.73 304.05 L179.48 306.46 L179.23 348.33 L178.98 348.33 L178.73 306.46 L178.48 306.46 L178.23 297.18 L177.98 295.21 L177.23 295.21 L176.73 294.12 L176.48 293.96 L175.48 293.96 L175.23 292.58 L174.98 291.46 L172.23 291.46 L171.98 310.89 L171.73 325.21 L171.48 325.83 L171.23 325.83 L170.98 301.46 L170.73 301.46 L170.48 301.17 L170.23 300.34 L169.98 300.21 L169.23 300.21 L168.98 296.08 L168.73 292.71 L166.48 292.71 L166.23 311.46 L165.98 311.46 L165.73 297.71 L161.48 297.71 L161.23 303.38 L160.98 304.58 L160.73 305.21 L160.23 305.21Z" clip-path="url(#c1)" fill="#1f77b4" stroke="#1f77b4" stroke-width="2.083" stroke-linejoin="round"/>
<line x1="202.5" y1="378.50" x2="202.5" y2="383.50" stroke="#000" stroke-width="1"/>
<text transform="translate(169.991 415.536) rotate(-30)" textLength="35.012">2020</text>
<line x1="285.5" y1="378.50" x2="285.5" y2="383.50" stroke="#000" stroke-width="1"/>
<text transform="translate(252.950 415.536) rotate(-30)" textLength="35.012">2030</text>
<line x1="368.5" y1="378.50" x2="368.5" y2="383.50" stroke="#000" stroke-width="1"/>
<text transform="translate(335.886 415.536) rotate(-30)" textLength="35.012">2040</text>
<line x1="451.5" y1="378.50" x2="451.5" y2="383.50" stroke="#000" stroke-width="1"/>
<text transform="translate(418.844 415.536) rotate(-30)" textLength="35.012">2050</text>
<line x1="534.5" y1="378.50" x2="534.5" y2="383.50" stroke="#000" stroke-width="1"/>
<text transform="translate(501.780 415.536) rotate(-30)" textLength="35.012">2060</text>
<line x1="617.5" y1="378.50" x2="617.5" y2="383.50" stroke="#000" stroke-width="1"/>
<text transform="translate(584.738 415.536) rotate(-30)" textLength="35.012">2070</text>
<line x1="700.5" y1="378.50" x2="700.5" y2="383.50" stroke="#000" stroke-width="1"/>
<text transform="translate(667.674 415.536) rotate(-30)" textLength="35.012">2080</text>
<line x1="783.5" y1="378.50" x2="783.5" y2="383.50" stroke="#000" stroke-width="1"/>
<text transform="translate(750.633 415.536) rotate(-30)" textLength="35.012">2090</text>
<line x1="866.5" y1="378.50" x2="866.5" y2="383.50" stroke="#000" stroke-width="1"/>
<text transform="translate(833.569 415.536) rotate(-30)" textLength="35.012">2100</text>
<line x1="120.50" y1="367.5" x2="125.50" y2="367.5" stroke="#000" stroke-width="1"/>
<text x="85.996" y="371.968" textLength="28.082">−60</text>
<line x1="120.50" y1="325.5" x2="125.50" y2="325.5" stroke="#000" stroke-width="1"/>
<text x="85.996" y="330.369" textLength="28.082">−40</text>
<line x1="120.50" y1="284.5" x2="125.50" y2="284.5" stroke="#000" stroke-width="1"/>
<text x="85.996" y="289.170" textLength="28.082">−20</text>
<text transform="translate(76.522 347.812) rotate(-90) scale(0.97594 1)">fieldmin</text>
<rect x="125.5" y="261.5" width="775.0" height="117.0" fill="none" stroke="#000" stroke-width="1.111" stroke-linejoin="miter"/>
</g>
<g id="axes3">
<rect x="125.000" y="401.379" width="775.000" height="117.241" fill="#ffffff"/>
<path d="M160.23 476.17 L161.23 476.17 L161.48 478.09 L161.73 480.54 L164.48 480.54 L164.73 476.54 L164.98 476.54 L165.23 477.04 L166.23 477.04 L166.48 478.58 L166.73 480.54 L169.48 480.54 L169.73 480.46 L169.98 479.81 L170.23 479.29 L170.73 479.29 L170.98 463.67 L171.23 463.67 L171.48 476.79 L173.73 476.79 L173.98 464.04 L174.23 464.04 L174.48 476.17 L176.98 476.17 L177.23 475.65 L177.48 471.8 L177.73 468.67 L178.48 468.67 L178.73 468.26 L178.98 422.79 L179.23 422.79 L179.48 474.29 L179.73 474.29 L179.98 474.51 L180.23 475.2 L180.48 475.54 L181.23 475.54 L181.48 476.64 L181.73 478.04 L184.48 478.04 L184.73 476.12 L184.98 473.67 L185.73 473.67 L185.98 473.54 L186.23 472.58 L186.48 471.79 L186.98 471.79 L187.23 451.17 L187.48 451.17 L187.73 471.79 L187.98 471.92 L188.23 472.76 L188.48 473.04 L190.73 473.04 L190.98 467.42 L191.23 467.42 L191.48 476.79 L193.48 476.79 L193.73 476.39 L193.98 473.89 L194.23 473.04 L194.48 462.42 L194.73 462.42 L194.98 473.04 L195.73 473.04 L196.23 473.99 L196.48 474.29 L197.48 474.29 L197.73 474.64 L197.98 477.2 L198.23 479.29 L198.98 479.29 L199.23 479.42 L199.48 480.26 L199.73 480.54 L202.23 480.54 L202.48 454.29 L202.73 454.29 L202.98 473.67 L205.73 473.67 L205.98 473.71 L206.48 474.04 L207.48 474.04 L207.73 476.62 L207.98 479.92 L208.98 479.92 L209.48 480.41 L209.73 480.54 L210.73 480.54 L210.98 481.38 L211.23 482.42 L213.98 482.42 L214.23 482.09 L214.48 480 L214.73 479.29 L214.98 479.29 L215.23 470.54 L215.48 470.54 L215.73 478.04 L216.48 478.04 L216.73 478.48 L216.98 479.03 L217.23 479.29 L217.98 479.29 L218.23 479.42 L218.48 480.26 L218.73 480.54 L221.48 480.54 L221.73 480.15 L222.23 477.42 L223.23 477.42 L223.48 477.12 L223.73 474.87 L223.98 473.04 L224.73 473.04 L224.98 472.51 L225.23 469.18 L225.48 468.04 L226.23 468.04 L226.48 466.36 L226.73 464.29 L227.48 464.29 L227.73 464.16 L227.98 463.33 L228.23 463.04 L228.48 463.04 L228.73 435.54 L228.98 435.54 L229.23 479.29 L229.73 479.29 L229.98 479.49 L230.23 479.82 L230.48 479.92 L233.48 479.87 L233.98 479.29 L234.48 479.29 L234.73 441.79 L234.98 441.79 L235.23 446.17 L236.23 446.17 L236.48 460.17 L236.73 478.04 L237.73 478.04 L237.98 478.48 L238.23 479.03 L238.48 479.29 L240.98 479.29 L241.23 476.17 L241.48 476.17 L241.73 476.79 L244.23 476.79 L244.48 473.5 L244.73 458.04 L244.98 434.29 L245.23 434.29 L245.48 473.04 L245.73 473.04 L245.98 473.67 L246.48 478.04 L249.48 478.04 L249.73 477.22 L249.98 476.17 L250.73 476.17 L250.98 468.04 L252.98 468.04 L253.23 456.17 L253.48 456.17 L253.73 478.04 L255.73 478.04 L255.98 469.54 L256.23 469.54 L256.48 470.54 L256.73 470.54 L256.98 470.94 L257.23 473.44 L257.48 474.29 L259.98 474.29 L260.23 474.03 L260.48 472.36 L260.73 471.79 L261.23 471.79 L261.48 461.17 L261.73 461.17 L261.98 478.04 L262.73 478.04 L263.23 478.54 L263.48 478.67 L265.98 478.67 L266.23 466.17 L266.48 466.17 L266.73 468.04 L267.73 468.04 L267.98 468.48 L268.23 469.03 L268.48 469.29 L271.23 469.29 L271.48 459.92 L271.73 459.92 L271.98 469.29 L274.48 469.29 L274.73 469.21 L274.98 468.56 L275.23 468.04 L275.98 468.04 L276.23 461.12 L276.48 457.42 L276.98 457.42 L277.23 443.04 L277.48 443.04 L277.73 458.04 L277.98 458.04 L278.23 460.16 L278.48 473.5 L278.73 478.04 L281.48 478.04 L281.73 473.67 L281.98 473.67 L282.23 474.29 L282.73 474.29 L282.98 478.36 L283.23 480.54 L285.98 480.54 L286.23 467.79 L286.48 467.79 L286.73 479.29 L287.23 479.29 L287.48 479.7 L287.73 480.34 L287.98 480.54 L290.23 480.54 L290.48 477.42 L290.73 477.42 L290.98 479.29 L291.98 479.29 L292.23 479.37 L292.73 479.92 L295.98 479.87 L296.48 479.29 L297.48 479.29 L297.73 474.52 L297.98 468.67 L298.98 468.67 L299.23 468.59 L299.73 468.04 L300.73 468.04 L300.98 467.22 L301.23 466.17 L301.98 466.17 L302.23 459.92 L302.48 459.92 L302.73 476.79 L305.23 476.79 L305.48 475.54 L305.73 475.54 L305.98 478.04 L308.48 478 L308.98 477.42 L309.98 477.42 L310.23 473.2 L310.48 468.04 L311.23 468.04 L311.48 467.98 L311.73 467.56 L311.98 443.29 L312.23 443.29 L312.48 466.79 L312.98 466.79 L313.48 467.42 L314.23 467.42 L314.48 470.33 L314.73 474.29 L317.23 474.29 L317.48 474.16 L317.73 473.33 L317.98 473.04 L318.23 413.04 L318.48 413.04 L318.73 475.54 L321.48 475.54 L321.73 476.2 L321.98 477.03 L322.23 477.42 L323.23 477.42 L323.48 477.65 L323.98 479.29 L327.48 479.29 L327.73 478.53 L327.98 476.79 L328.23 476.79 L328.48 478.04 L329.48 478.04 L329.73 478.2 L330.23 479.29 L333.23 479.29 L333.48 478.22 L333.73 470.2 L333.98 463.67 L334.98 463.67 L335.48 463.04 L336.23 463.04 L336.48 462.51 L336.73 461.79 L336.98 443.67 L337.23 443.67 L337.48 469.29 L337.98 469.29 L338.23 470.42 L338.48 471.79 L343.23 471.79 L343.48 470.14 L343.73 468.04 L343.98 466.54 L344.23 466.54 L344.48 474.29 L348.98 474.29 L349.23 474.21 L349.73 473.67 L350.73 473.67 L350.98 469.55 L351.23 464.29 L351.73 464.29 L351.98 464.18 L352.23 463.67 L352.48 436.79 L352.73 436.79 L352.98 474.92 L353.73 474.92 L353.98 475.37 L354.48 476.54 L356.23 476.58 L356.98 476.79 L359.98 476.79 L360.23 476.39 L360.48 473.89 L360.73 473.04 L361.23 473.04 L361.48 471.17 L361.73 471.17 L361.98 474.29 L364.73 474.29 L364.98 473.04 L365.23 473.04 L365.48 479.29 L367.48 479.29 L367.73 468.42 L367.98 453.67 L368.48 453.67 L368.73 447.42 L368.98 447.42 L369.23 474.29 L373.23 474.29 L373.73 473.67 L374.48 473.67 L374.73 472.81 L374.98 466.4 L375.23 461.17 L375.98 461.17 L376.23 444.04 L376.48 444.04 L376.73 454.29 L376.98 456.15 L377.23 467.81 L377.48 471.79 L378.23 471.79 L378.48 472.19 L378.98 474.92 L382.23 474.92 L382.73 474.62 L383.23 474.54 L383.73 474.54 L383.98 463.83 L384.23 449.29 L384.48 449.04 L384.73 449.04 L384.98 472.42 L385.73 472.42 L385.98 472.81 L386.48 475.54 L389.48 475.54 L389.73 473.04 L389.98 473.04 L390.23 478.04 L390.98 478.04 L391.23 478.13 L391.73 478.54 L391.98 478.67 L395.48 478.67 L395.73 478.33 L396.23 476.66 L396.48 476.17 L397.98 476.17 L398.23 475.29 L398.48 473.04 L398.73 473.04 L398.98 479.29 L399.48 479.29 L399.73 479.37 L400.23 479.92 L401.23 479.92 L401.48 481.29 L401.73 483.04 L404.48 483.04 L404.73 478.1 L404.98 471.79 L408.23 471.79 L408.48 469.59 L408.73 466.79 L408.98 466.79 L409.23 434.92 L409.48 434.92 L409.73 483.04 L412.23 483.04 L412.48 479.74 L412.73 472.92 L412.98 471.79 L413.73 471.79 L413.98 470.95 L414.23 469.92 L414.73 469.92 L414.98 466.54 L415.23 466.54 L415.48 468.04 L417.48 468.04 L417.73 456.11 L417.98 439.92 L418.73 439.92 L418.98 432.04 L419.23 432.04 L419.48 476.79 L421.73 476.79 L421.98 475.57 L422.23 473.65 L422.48 473.04 L422.73 473.04 L422.98 467.42 L423.23 467.42 L423.48 473.04 L426.48 473.04 L426.73 472.79 L426.98 472.79 L427.23 476.17 L428.23 476.17 L428.48 476.56 L428.98 479.29 L430.23 479.29 L430.48 479.95 L430.73 480.78 L430.98 481.17 L431.73 481.17 L431.98 481.23 L432.23 481.65 L432.48 481.79 L434.98 481.79 L435.23 468 L435.48 449.29 L435.73 417.42 L435.98 417.42 L436.23 474.29 L436.73 474.29 L436.98 475.13 L437.23 476.17 L440.23 476.17 L440.48 476.09 L440.98 475.54 L441.48 475.54 L441.73 466.54 L441.98 466.54 L442.23 473.04 L442.98 473.04 L443.23 475.29 L443.48 478.04 L446.48 478.04 L446.73 477.57 L447.23 474.29 L448.48 474.29 L448.73 473.86 L448.98 473.3 L449.23 473.04 L450.98 473.04 L451.23 441.17 L451.48 441.17 L451.73 474.29 L452.23 474.29 L452.48 475.31 L452.73 476.91 L452.98 477.42 L455.98 477.42 L456.23 476.76 L456.48 475.93 L456.73 475.54 L457.73 475.54 L457.98 475.38 L458.48 474.29 L459.73 474.29 L459.98 468.67 L460.23 468.67 L460.48 469.29 L461.48 469.31 L461.98 469.54 L462.98 469.54 L463.23 470.83 L463.48 472.42 L467.48 472.42 L467.73 449.29 L467.98 449.29 L468.23 473.04 L468.98 473.04 L469.23 474.35 L469.48 476.02 L469.73 476.79 L472.73 476.79 L472.98 476.44 L473.48 474.04 L474.73 474.02 L475.23 473.67 L475.98 473.67 L476.23 467.56 L476.48 464.29 L476.73 464.29 L476.98 447.04 L477.23 447.04 L477.48 473.04 L480.23 473.04 L480.48 472.22 L480.73 469.33 L480.98 466.54 L482.23 466.52 L482.73 466.17 L483.23 466.17 L483.48 439.54 L483.73 439.54 L483.98 474.29 L484.23 474.29 L484.48 474.82 L484.73 478.16 L484.98 479.29 L487.48 479.29 L487.73 474.29 L487.98 474.29 L488.23 478.04 L490.48 478.04 L490.73 477.89 L490.98 461.22 L491.23 458.04 L491.48 456.79 L491.73 456.79 L491.98 461.79 L492.98 461.79 L493.23 463.25 L493.48 472.42 L493.73 475.54 L496.23 475.54 L496.48 473.04 L496.73 473.04 L496.98 478.04 L499.48 478.04 L499.73 473.65 L499.98 468.04 L500.23 466.79 L500.48 466.79 L500.73 483.04 L503.98 483.04 L504.23 481.9 L504.48 480.67 L504.73 479.92 L505.98 479.92 L506.48 479.42 L506.73 479.29 L507.73 479.29 L507.98 478.9 L508.48 476.17 L509.73 476.17 L509.98 475.54 L510.23 475.54 L510.48 476.17 L512.48 476.17 L512.73 469.29 L512.98 469.29 L513.23 484.29 L515.98 484.29 L516.23 482.77 L516.48 480.82 L516.73 479.92 L517.48 479.92 L517.73 477.73 L517.98 463.98 L518.23 459.29 L518.48 458.29 L518.73 458.29 L518.98 478.04 L521.48 478.04 L521.73 477.57 L522.23 474.29 L523.23 474.29 L523.48 472.09 L523.73 469.29 L524.48 469.29 L524.73 459.95 L524.98 448.04 L525.23 419.92 L525.48 419.92 L525.73 478.04 L528.48 478.04 L528.73 476.08 L528.98 473.58 L529.23 472.42 L529.73 472.42 L529.98 471.79 L530.23 471.79 L530.48 479.29 L530.98 479.37 L531.48 479.92 L534.73 479.92 L534.98 476.79 L535.23 476.79 L535.48 479.29 L538.48 479.29 L538.73 477.98 L538.98 476.32 L539.23 475.54 L540.48 475.54 L540.73 474.42 L540.98 471.54 L541.23 471.54 L541.48 473.04 L541.98 473.04 L542.23 473.12 L542.73 473.67 L543.73 473.67 L543.98 476.14 L544.23 479.29 L546.98 479.29 L547.23 476.82 L547.48 473.67 L548.48 473.62 L548.98 473.04 L549.73 473.04 L549.98 469.78 L550.23 468.04 L550.48 468.04 L550.73 467.93 L550.98 467.42 L551.23 444.54 L551.48 444.54 L551.73 476.17 L552.48 476.17 L553.23 476.79 L554.48 476.79 L554.73 476.95 L555.23 478.04 L557.98 478.04 L558.23 446.17 L558.48 446.17 L558.73 478.04 L560.98 478.04 L561.23 472.42 L561.48 472.42 L561.73 473.04 L564.73 473.04 L564.98 472.79 L565.23 472.79 L565.48 481.79 L568.48 481.75 L568.98 481.17 L569.98 481.17 L570.23 479.2 L570.48 476.79 L571.48 476.79 L571.73 470.54 L571.98 470.54 L572.23 471.17 L575.23 471.17 L575.48 470.29 L575.73 470.29 L575.98 480.54 L578.73 480.54 L578.98 477.73 L579.23 474.29 L579.73 474.29 L579.98 473.29 L580.23 473.29 L580.48 479.29 L580.98 479.29 L581.23 479.7 L581.48 480.34 L581.73 480.54 L583.98 480.54 L584.23 471.54 L584.48 471.54 L584.73 479.29 L587.48 479.29 L587.98 478.67 L588.98 478.67 L589.23 478.59 L589.73 478.04 L590.73 478.04 L590.98 476.54 L591.23 471.68 L591.48 469.29 L592.98 469.29 L593.23 428.42 L593.48 428.42 L593.73 476.79 L597.98 476.79 L598.23 463.67 L598.48 463.67 L598.73 474.29 L599.48 474.29 L599.73 474.45 L600.23 475.54 L603.23 475.54 L603.48 474.44 L603.73 473.04 L603.98 473.04 L604.23 466.79 L604.48 466.79 L604.73 475.54 L607.48 475.54 L607.73 474.42 L607.98 473.04 L608.23 473.04 L608.48 435.92 L608.73 435.92 L608.98 480.54 L611.48 480.54 L611.73 476.79 L611.98 476.79 L612.23 478.04 L613.23 478.04 L613.48 478.2 L613.98 479.29 L617.23 479.29 L617.48 477.55 L617.73 475.33 L617.98 474.29 L618.98 474.29 L619.23 473.82 L619.73 470.54 L620.73 470.54 L621.23 469.92 L621.98 469.92 L622.48 469.29 L622.73 462.42 L622.98 462.42 L623.23 476.79 L625.73 476.79 L625.98 476.87 L626.48 477.42 L629.73 477.42 L629.98 476.33 L630.23 474.94 L630.48 474.29 L633.23 474.29 L633.48 473.74 L633.73 473.04 L633.98 473.04 L634.23 421.17 L634.48 421.17 L634.73 480.54 L636.98 480.54 L637.23 470.54 L637.48 470.54 L637.73 471.79 L640.73 471.78 L640.98 470.74 L641.23 407.42 L641.48 407.42 L641.73 473.04 L643.98 473.04 L644.23 470.54 L644.48 470.54 L644.73 473.04 L645.23 473.04 L645.48 474.35 L645.73 476.02 L645.98 476.79 L648.73 476.79 L648.98 466.2 L649.23 443.29 L649.48 443.29 L649.73 483.04 L652.23 483.04 L652.48 482.7 L652.73 480.13 L652.98 478.04 L653.73 478.04 L653.98 477.78 L654.23 476.11 L654.48 475.54 L654.98 475.54 L655.23 475.48 L655.48 475.06 L655.73 474.92 L656.48 474.92 L656.98 474.29 L657.73 474.29 L657.98 469.29 L658.23 469.29 L658.48 478.04 L660.98 478.04 L661.23 473.04 L661.48 473.04 L661.73 473.67 L661.98 473.67 L662.23 475.52 L662.48 478.04 L664.73 478.04 L664.98 477.81 L665.23 433.04 L665.48 433.04 L665.73 479.29 L670.23 479.29 L670.48 477.61 L670.73 475.54 L671.48 475.54 L671.73 470.79 L671.98 470.79 L672.23 472.42 L673.23 472.42 L673.48 472.5 L673.98 473.04 L674.98 473.04 L675.23 474.14 L675.48 475.54 L677.73 475.54 L677.98 471.79 L678.23 471.79 L678.48 475.54 L679.48 475.54 L679.73 475.86 L680.23 478.04 L682.98 478.04 L683.23 467.36 L683.48 462.79 L683.73 462.79 L683.98 479.29 L686.73 479.29 L686.98 476.85 L687.23 473.01 L687.48 471.79 L688.23 471.79 L688.48 470.69 L688.73 469.29 L688.98 468.29 L689.23 468.29 L689.48 473.04 L689.73 473.7 L689.98 477.87 L690.23 479.29 L692.73 479.29 L692.98 472.93 L693.23 464.29 L693.48 463.92 L693.73 463.92 L693.98 476.79 L694.48 476.79 L694.73 476.95 L695.23 478.04 L698.48 478.04 L698.73 477.39 L698.98 476.55 L699.23 476.17 L699.73 476.17 L699.98 476.78 L700.23 477.74 L700.48 478.04 L702.73 478.04 L702.98 470.79 L703.23 470.79 L703.48 478.04 L706.48 478.04 L706.73 476.08 L706.98 473.67 L707.73 473.67 L707.98 473.4 L708.23 473.04 L708.73 473.04 L708.98 461.64 L709.23 455.54 L709.48 444.54 L709.73 444.54 L709.98 474.29 L710.48 474.29 L710.73 474.51 L710.98 474.99 L711.23 475.29 L712.23 475.29 L712.48 476.19 L712.73 477.6 L712.98 478.04 L715.73 478.04 L715.98 469.92 L716.23 469.92 L716.48 474.29 L720.23 474.29 L720.48 469.54 L720.73 469.54 L720.98 469.92 L723.23 469.92 L723.48 464.7 L723.73 458.04 L723.98 458.04 L724.23 450.54 L724.48 450.54 L724.73 478.04 L727.48 478.04 L727.73 477.48 L727.98 476.79 L728.98 476.79 L729.23 477.66 L729.48 478.77 L729.73 479.29 L732.48 479.29 L732.73 478.89 L732.98 476.39 L733.23 475.54 L733.98 475.54 L734.23 474.92 L734.48 474.92 L734.73 475.54 L735.48 475.54 L735.73 478.35 L735.98 481.79 L736.98 481.79 L737.23 482.35 L737.48 483.04 L740.48 483.04 L740.73 468.88 L740.98 459.29 L741.23 459.29 L741.48 458.92 L741.73 458.92 L741.98 480.54 L744.48 480.54 L744.73 479.54 L744.98 479.54 L745.23 481.17 L747.48 481.17 L747.73 480.17 L747.98 473.92 L748.23 471.79 L748.73 471.79 L748.98 470.76 L749.23 464.26 L749.48 462.04 L750.23 462.09 L750.73 462.79 L751.48 462.79 L751.73 464.4 L751.98 469.22 L752.48 469.29 L752.73 469.29 L753.23 469.92 L753.98 469.96 L754.23 474.65 L754.48 475.54 L756.73 475.54 L756.98 471.82 L757.23 454.29 L757.48 454.29 L757.73 453.67 L757.98 453.67 L758.23 454.29 L760.73 454.29 L760.98 453.67 L761.23 453.67 L761.48 474.29 L764.48 474.29 L764.73 464.41 L764.98 451.79 L765.73 451.79 L766.23 451.17 L766.98 451.17 L767.48 450.54 L767.73 443.67 L767.98 443.67 L768.23 474.29 L768.73 474.29 L768.98 475.04 L769.23 475.54 L770.23 475.54 L770.48 476.41 L770.73 477.52 L770.98 478.04 L773.48 478.04 L773.73 475.54 L773.98 475.54 L774.23 480.54 L776.98 480.54 L777.23 478.62 L777.48 476.17 L778.48 476.17 L778.98 475.67 L779.23 475.54 L782.73 475.54 L782.98 469.04 L783.23 469.04 L783.48 476.79 L786.23 476.79 L786.48 476.88 L786.73 477.52 L786.98 478.04 L789.73 478.04 L789.98 467.45 L790.23 461.79 L790.73 461.79 L790.98 460.69 L791.23 459.29 L791.48 459.29 L791.73 440.54 L791.98 440.54 L792.23 473.04 L794.73 473.04 L794.98 472.91 L795.23 472.61 L795.48 472.42 L796.23 472.42 L796.48 467.42 L796.73 467.42 L796.98 473.04 L799.48 473.04 L799.73 469.54 L799.98 469.54 L800.23 481.79 L802.48 481.79 L802.73 481.66 L802.98 480.83 L803.23 480.54 L803.73 480.54 L803.98 479.61 L804.23 473.78 L804.48 471.79 L804.98 471.79 L805.23 471.66 L805.48 470.83 L805.73 470.54 L806.23 470.54 L806.48 425.54 L806.73 425.54 L806.98 446.79 L807.48 446.79 L807.73 447.02 L807.98 472.02 L808.23 476.79 L808.73 476.79 L808.98 477.34 L809.23 478.04 L811.48 478.04 L811.73 473.67 L811.98 473.67 L812.23 478.04 L812.48 478.04 L812.73 478.59 L812.98 479.29 L815.48 479.29 L815.73 479.04 L815.98 451.44 L816.23 446.17 L816.48 445.54 L816.73 445.54 L816.98 476.79 L819.23 476.79 L819.48 476.58 L819.73 475.88 L819.98 475.54 L820.98 475.54 L821.23 473.8 L821.48 471.58 L821.73 470.54 L822.48 470.54 L822.73 470.48 L822.98 470.06 L823.23 469.92 L823.48 439.92 L823.73 439.92 L823.98 475.54 L826.23 475.54 L826.48 475.28 L826.73 473.61 L826.98 473.04 L827.23 473.04 L827.48 469.92 L827.73 469.92 L827.98 475.54 L828.48 475.54 L828.73 475.74 L828.98 476.07 L829.23 476.17 L829.73 476.17 L829.98 477.15 L830.23 481.79 L832.73 481.79 L832.98 456.42 L833.23 456.42 L833.48 474.29 L835.98 474.29 L836.23 465.33 L836.48 460.54 L836.73 459.92 L836.98 459.92 L837.23 476.79 L841.23 476.79 L841.48 458.06 L841.73 426.17 L841.98 426.17 L842.23 472.42 L844.48 472.42 L844.73 478.04 L845.23 478.04 L845.48 478.91 L845.73 480.02 L845.98 480.54 L848.73 480.54 L848.98 479.41 L849.23 472.33 L849.48 469.92 L849.73 469.92 L849.98 469.54 L850.23 469.54 L850.48 471.79 L852.48 471.79 L852.73 470.79 L852.98 470.79 L853.23 474.29 L855.98 474.29 L856.23 473.67 L856.48 473.67 L856.73 479.29 L858.73 479.29 L858.98 478.63 L859.23 474.46 L859.48 473.04 L859.98 473.04 L860.23 472.31 L860.48 467.73 L860.73 469.61 L860.98 474.29 L861.48 474.29 L861.73 474.36 L861.98 474.77 L862.23 474.92 L862.73 474.92 L862.98 475.51 L863.23 479.26 L863.48 480.54 L864.73 480.54 L864.73 508.46 L864.48 508.46 L864.23 507.04 L863.98 502.87 L863.73 502.21 L862.98 502.21 L862.73 501.52 L862.48 500.96 L859.73 500.96 L859.48 507.83 L859.23 507.83 L858.98 505.96 L855.98 505.96 L855.73 506.58 L855.48 506.58 L855.23 504.71 L854.23 504.71 L853.98 504.45 L853.73 503.89 L853.48 503.46 L850.23 503.46 L849.73 504.55 L849.48 504.71 L848.48 504.71 L848.23 509.08 L847.98 509.08 L847.73 503.46 L846.73 503.46 L846.48 502.94 L846.23 501.83 L845.98 500.96 L842.73 500.96 L842.23 503.14 L841.98 503.46 L840.98 503.46 L840.73 504.83 L840.48 505.96 L839.73 505.96 L839.48 511.58 L839.23 511.58 L838.98 505.96 L838.73 505.96 L838.48 504.84 L838.23 501.32 L837.98 499.08 L834.98 499.08 L834.73 500.8 L834.48 502.21 L833.48 502.21 L833.23 502.73 L832.98 503.84 L832.73 504.71 L831.73 504.71 L831.48 507.21 L831.23 507.21 L830.98 506.58 L829.73 506.58 L829.23 502.76 L828.98 502.21 L825.98 502.21 L825.73 506.58 L825.48 506.58 L825.23 506.15 L824.98 505.96 L823.48 505.96 L822.98 503.77 L822.73 503.46 L821.73 503.46 L821.48 503.33 L820.98 502.83 L817.98 502.83 L817.73 507.21 L817.48 507.21 L817.23 505.33 L816.48 505.33 L815.73 505.28 L814.98 503.46 L813.48 503.46 L812.98 501.27 L812.73 500.96 L809.98 500.96 L809.73 501.53 L809.48 503.19 L809.23 503.46 L808.48 503.46 L808.23 506.58 L807.98 506.58 L807.73 505.71 L807.48 505.33 L805.98 505.33 L805.48 504.79 L805.23 504.71 L802.23 504.71 L801.98 504.84 L801.48 505.33 L800.23 505.33 L799.73 505.88 L799.48 505.96 L798.98 505.96 L798.73 511.58 L798.48 511.58 L798.23 505.96 L797.48 505.96 L797.23 503.16 L796.98 500.96 L793.98 500.96 L793.48 503.14 L793.23 503.46 L792.23 503.46 L791.98 503.98 L791.73 505.09 L791.48 505.96 L790.73 505.96 L790.48 507.83 L790.23 507.83 L789.98 504.71 L789.23 504.71 L788.98 503.93 L788.73 502.27 L788.48 500.96 L787.23 500.96 L786.73 499.87 L786.48 499.71 L783.73 499.71 L783.48 500.56 L783.23 503.06 L782.98 503.46 L782.23 503.46 L781.98 504.49 L781.73 506.72 L781.48 508.46 L780.48 508.46 L780.23 509.71 L779.98 509.71 L779.73 504.71 L779.23 504.71 L778.98 504.19 L778.73 503.08 L778.48 502.21 L775.23 502.21 L774.73 504.39 L774.48 504.71 L773.23 504.71 L772.98 504.95 L772.73 505.96 L772.48 505.96 L772.23 505.3 L771.98 504.88 L771.73 504.71 L770.48 504.71 L770.23 503.93 L769.98 502.27 L769.73 500.96 L766.73 500.96 L766.48 503.06 L766.23 504.71 L765.48 504.71 L765.23 505.96 L764.98 505.96 L764.73 500.96 L761.48 500.96 L760.98 502.05 L760.73 502.21 L759.73 502.21 L759.48 502.86 L759.23 504.24 L758.98 505.33 L757.48 505.35 L757.23 505.56 L756.98 505.96 L756.73 505.96 L756.48 502.21 L753.48 502.21 L753.23 504.08 L752.98 504.08 L752.73 499.71 L749.73 499.71 L749.48 500.48 L749.23 502.15 L748.98 503.46 L747.73 503.46 L747.23 504.55 L746.98 504.71 L743.23 504.71 L742.98 504.95 L742.48 505.79 L742.23 505.96 L740.98 505.96 L740.73 506.22 L740.48 506.77 L740.23 507.21 L739.48 507.21 L739.23 509.08 L738.98 509.08 L738.73 507.53 L738.48 507.21 L737.23 507.21 L736.73 506.66 L736.48 506.58 L735.23 506.58 L734.98 506.21 L734.48 504.96 L734.23 504.71 L730.98 504.71 L730.73 505.96 L730.48 505.96 L730.23 502.21 L727.23 502.21 L726.98 502.73 L726.73 503.84 L726.48 504.71 L725.73 504.71 L725.48 508.46 L725.23 508.46 L724.98 502.21 L723.98 502.21 L723.73 501.96 L723.23 501.13 L722.98 500.96 L719.48 500.96 L719.23 501.08 L718.73 501.5 L718.48 501.58 L716.98 501.58 L716.73 502.08 L716.23 503.74 L715.98 504.08 L714.73 504.08 L714.48 504.71 L714.23 504.71 L713.98 499.71 L711.23 499.71 L710.98 501.77 L710.73 503.46 L709.48 503.46 L709.23 505.33 L708.98 505.33 L708.73 503.78 L708.48 503.46 L707.23 503.46 L706.73 501.27 L706.48 500.96 L703.48 500.96 L703.23 501.48 L702.98 502.59 L702.73 503.46 L701.98 503.46 L701.73 509.08 L701.48 509.08 L701.23 506.58 L700.48 506.58 L700.23 506.45 L699.73 505.96 L698.48 505.96 L697.98 504.32 L697.73 504.08 L696.73 504.08 L696.48 503.95 L695.98 503.46 L692.73 503.46 L692.23 504.55 L691.98 504.71 L691.48 504.71 L691.23 508.46 L690.98 508.46 L690.73 504.71 L690.23 504.71 L689.98 502.62 L689.73 500.05 L689.48 499.71 L686.73 499.71 L686.48 502.83 L686.23 502.83 L685.98 502.21 L682.73 502.21 L682.48 505.96 L682.23 505.96 L681.98 503.46 L680.98 503.46 L680.48 500.18 L680.23 499.71 L677.23 499.71 L676.98 500.23 L676.73 501.34 L676.48 502.21 L675.48 502.21 L675.23 505.96 L674.98 505.96 L674.73 503.46 L673.48 503.46 L672.98 500.73 L672.73 500.33 L669.73 500.33 L669.48 500.85 L669.23 501.96 L668.98 502.83 L667.73 502.83 L667.23 503.38 L666.98 503.46 L666.48 503.46 L666.23 506.58 L665.98 506.58 L665.73 504.71 L664.73 504.71 L664.23 501.43 L663.98 500.96 L660.98 500.96 L660.73 501.22 L660.48 501.77 L660.23 502.21 L658.98 502.21 L658.48 505.48 L658.23 505.96 L657.73 505.96 L657.48 509.71 L657.23 509.71 L656.98 508.46 L656.73 507.04 L656.48 502.87 L656.23 502.21 L653.23 502.21 L652.98 502.45 L652.48 503.29 L652.23 503.46 L650.98 503.46 L650.73 504.23 L650.48 505.9 L650.23 507.21 L649.73 507.21 L649.48 512.21 L649.23 512.21 L648.98 505.96 L648.48 505.96 L647.98 501.59 L647.73 500.96 L644.73 500.96 L644.48 501.48 L644.23 502.59 L643.98 503.46 L640.98 503.46 L640.73 506.58 L640.48 506.58 L640.23 502.21 L637.23 502.21 L636.98 504.71 L636.73 504.71 L636.48 499.71 L633.98 499.71 L633.48 502.44 L633.23 502.83 L631.98 502.83 L631.73 503.2 L631.23 504.45 L630.98 504.71 L629.48 504.71 L629.23 505.08 L628.98 506.58 L628.73 506.58 L628.48 505.59 L628.23 504.96 L627.98 504.71 L624.73 504.71 L624.48 509.08 L624.23 509.08 L623.98 503.46 L622.73 503.46 L622.48 503.21 L621.98 502.38 L621.73 502.21 L618.48 502.21 L618.23 502.47 L617.98 503.02 L617.73 503.46 L616.73 503.46 L616.48 507.21 L616.23 507.21 L615.98 505.22 L615.73 503.97 L615.48 503.46 L614.23 503.46 L613.98 503.2 L613.73 502.64 L613.48 502.21 L610.23 502.21 L609.73 504.94 L609.48 505.33 L608.48 505.33 L608.23 505.96 L607.98 505.96 L607.73 503.46 L606.73 503.46 L606.48 502.94 L606.23 501.83 L605.98 500.96 L602.73 500.96 L602.23 503.69 L601.98 504.08 L600.73 504.08 L600.48 504.21 L599.98 504.62 L599.73 504.71 L598.48 504.71 L598.23 505.33 L597.98 505.33 L597.73 503.46 L596.73 503.46 L596.48 502.68 L596.23 501.02 L595.98 499.71 L592.98 499.71 L592.73 501.11 L592.48 502.21 L591.73 502.21 L591.48 507.21 L591.23 507.21 L590.98 501.58 L587.73 501.58 L587.23 502.13 L586.98 502.21 L585.73 502.21 L585.48 502.7 L584.98 504.37 L584.73 504.71 L583.23 504.71 L582.98 504.95 L582.73 505.96 L582.48 505.96 L582.23 501.58 L578.98 501.58 L578.48 502.13 L578.23 502.21 L577.23 502.21 L576.98 502.47 L576.73 503.02 L576.48 503.46 L575.73 503.46 L574.98 503.52 L574.73 504.14 L574.48 505.33 L574.23 505.33 L573.98 502.21 L572.98 502.21 L572.73 501.95 L572.48 501.39 L572.23 500.96 L568.98 500.96 L568.48 502.05 L568.23 502.21 L567.23 502.21 L566.98 505.96 L566.73 505.96 L566.48 503.46 L565.48 503.46 L565.23 502.68 L564.98 501.02 L564.73 499.71 L561.48 499.71 L560.98 500.8 L560.73 500.96 L559.73 500.96 L559.48 501.22 L559.23 501.77 L558.98 502.21 L557.48 502.25 L556.73 503.46 L555.48 503.46 L555.23 505.96 L554.98 505.96 L554.73 503.97 L554.48 502.72 L554.23 502.21 L550.98 502.21 L550.73 502.73 L550.48 503.84 L550.23 504.71 L549.48 504.71 L548.73 504.77 L548.48 505.39 L548.23 506.58 L547.98 506.58 L547.73 504.41 L547.48 503.46 L544.23 503.46 L543.98 505.96 L543.73 505.96 L543.48 504.71 L540.48 504.71 L540.23 507.83 L539.98 507.83 L539.73 503.46 L538.48 503.46 L537.98 502.37 L537.73 502.21 L534.73 502.21 L534.48 502.98 L534.23 504.65 L533.98 505.96 L532.98 505.96 L532.73 512.21 L532.48 512.21 L532.23 507.21 L531.98 507.21 L531.73 506.07 L531.48 502.74 L531.23 502.21 L524.98 502.21 L524.73 507.83 L524.48 507.83 L524.23 504.71 L523.48 504.71 L522.98 503.62 L522.73 503.46 L521.48 503.46 L521.23 503.21 L520.73 502.38 L520.48 502.21 L516.98 502.21 L516.73 502.45 L516.48 503.46 L516.23 503.46 L515.98 502.8 L515.73 502.38 L515.48 502.21 L511.98 502.21 L511.73 502.33 L511.23 502.75 L510.98 502.83 L509.48 502.83 L509.23 502.96 L508.98 503.46 L508.73 503.46 L508.48 502.8 L508.23 502.38 L507.98 502.21 L502.73 502.21 L502.23 503.3 L501.98 503.46 L500.98 503.46 L500.73 505.96 L500.48 505.96 L500.23 504.22 L499.98 503.46 L498.48 503.46 L497.98 502.37 L497.73 502.21 L494.73 502.21 L494.48 503.37 L494.23 505.87 L493.98 507.83 L492.98 507.83 L492.73 508.46 L492.48 508.46 L492.23 507.21 L490.98 507.21 L490.48 503.93 L490.23 503.46 L489.23 503.46 L488.98 503.2 L488.73 502.64 L488.48 502.21 L485.23 502.21 L484.73 503.3 L484.48 503.46 L483.23 503.46 L482.98 507.21 L482.73 507.21 L482.48 502.21 L477.73 502.21 L477.23 504.39 L476.98 504.71 L475.98 504.71 L475.73 504.97 L475.48 505.52 L475.23 505.96 L474.23 505.96 L473.98 507.21 L473.73 507.21 L473.48 505.22 L473.23 503.97 L472.98 503.46 L467.98 503.46 L467.73 504.86 L467.48 505.96 L467.23 505.96 L466.98 511.58 L466.73 511.58 L466.48 508.46 L465.98 508.46 L465.73 505.78 L465.48 503 L465.23 502.21 L464.23 502.21 L463.98 501.69 L463.73 500.58 L463.48 499.71 L460.48 499.71 L460.23 501.11 L459.98 502.21 L459.23 502.21 L458.98 503.02 L458.73 505.58 L458.48 507.21 L457.98 507.21 L457.73 512.83 L457.48 512.83 L457.23 507.21 L456.98 507.21 L456.73 506.64 L456.48 504.97 L456.23 504.71 L455.48 504.71 L455.23 504.32 L454.98 503.49 L454.73 502.83 L451.48 502.83 L450.98 504.47 L450.73 504.71 L449.73 504.71 L449.48 509.71 L449.23 509.71 L448.98 502.21 L448.48 502.21 L447.98 501.12 L447.73 500.96 L444.73 500.96 L444.48 508.46 L444.23 508.46 L443.98 505.96 L442.73 505.96 L442.48 505.84 L441.98 505.42 L441.73 505.33 L440.48 505.33 L440.23 504.43 L439.98 502.48 L439.73 500.96 L436.48 500.96 L435.98 504.23 L435.73 504.71 L434.73 504.71 L434.48 507.21 L434.23 507.21 L433.98 504.71 L426.73 504.71 L426.48 507.21 L426.23 507.21 L425.98 505.33 L424.73 505.33 L424.23 502.6 L423.98 502.21 L422.98 502.21 L422.73 501.69 L422.48 500.58 L422.23 499.71 L418.98 499.71 L418.48 501.35 L418.23 501.58 L417.23 501.58 L416.98 501.97 L416.73 502.8 L416.48 503.46 L415.23 503.46 L414.73 506.19 L414.48 506.58 L413.48 506.58 L413.23 507.83 L412.98 507.83 L412.73 505.66 L412.48 504.71 L409.23 504.71 L408.98 505.33 L408.73 505.33 L408.48 504.71 L407.23 504.71 L406.73 503.62 L406.48 503.46 L403.73 503.46 L403.48 503.74 L403.23 504.58 L402.98 504.71 L402.23 504.71 L401.98 504.97 L401.73 505.52 L401.48 505.96 L400.73 505.96 L400.48 509.08 L400.23 509.08 L399.98 505.45 L399.73 504.71 L398.48 504.71 L397.98 502.52 L397.73 502.21 L394.48 502.21 L394.23 502.33 L393.73 502.75 L393.48 502.83 L392.23 502.83 L391.98 503.46 L391.73 503.46 L391.48 502.21 L388.48 502.21 L388.23 502.73 L387.98 503.84 L387.73 504.71 L386.73 504.71 L386.48 508.46 L386.23 508.46 L385.98 507.13 L385.73 506.3 L385.48 505.96 L384.23 505.96 L383.98 505.44 L383.73 504.33 L383.48 503.46 L382.23 503.46 L381.73 500.18 L381.48 499.71 L378.73 499.71 L378.48 499.99 L378.23 500.83 L377.98 500.96 L376.98 500.96 L376.73 501.7 L376.23 504.2 L375.98 504.71 L374.48 504.71 L374.23 504.95 L373.98 505.96 L373.73 505.96 L373.48 505.3 L373.23 504.88 L372.98 504.71 L371.73 504.71 L371.48 504.45 L371.23 503.89 L370.98 503.46 L365.48 503.46 L365.23 504.71 L364.98 504.71 L364.73 502.83 L361.48 502.83 L360.98 504.47 L360.73 504.71 L359.48 504.71 L359.23 507.21 L358.98 507.21 L358.73 502.21 L355.98 502.21 L355.73 506.58 L355.48 506.58 L355.23 504.71 L353.98 504.71 L353.73 504.46 L353.23 503.63 L352.98 503.46 L351.48 503.46 L351.23 503.21 L350.73 502.38 L350.48 502.21 L344.73 502.21 L344.48 502.34 L343.98 502.83 L342.98 502.83 L342.73 507.21 L342.48 507.21 L342.23 503.46 L340.98 503.46 L340.48 502.37 L340.23 502.21 L337.23 502.21 L336.98 502.98 L336.73 504.65 L336.48 505.96 L335.48 505.96 L335.23 507.83 L334.98 507.83 L334.73 507.21 L333.48 507.21 L332.98 505.02 L332.73 504.71 L331.73 504.71 L331.48 503.93 L331.23 502.27 L330.98 500.96 L327.73 500.96 L327.23 504.23 L326.98 504.71 L325.98 504.71 L325.73 507.21 L325.48 507.21 L325.23 506.58 L324.23 506.58 L323.98 506.07 L323.73 504.95 L323.48 504.08 L320.23 504.08 L319.73 505.18 L319.48 505.33 L318.23 505.33 L317.98 505.46 L317.73 505.96 L317.48 505.96 L317.23 503.46 L315.98 503.46 L315.48 499.09 L315.23 498.46 L312.23 498.46 L311.98 499.36 L311.73 501.31 L311.48 502.83 L310.23 502.83 L309.73 503.38 L309.48 503.46 L308.48 503.46 L308.23 503.72 L307.98 504.27 L307.73 504.71 L306.73 504.71 L306.48 503.93 L306.23 502.27 L305.98 500.96 L303.23 500.96 L302.98 508.46 L302.73 508.46 L302.48 505.35 L302.23 504.71 L300.73 504.67 L299.98 503.46 L296.48 503.46 L295.98 505.64 L295.73 505.96 L294.73 505.96 L294.48 506.22 L294.23 506.77 L293.98 507.21 L292.98 507.21 L292.73 508.46 L292.48 508.46 L292.23 506.58 L291.73 506.58 L291.48 505.94 L291.23 504.55 L290.98 503.46 L289.73 503.46 L289.23 502.37 L288.98 502.21 L285.98 502.21 L285.73 502.73 L285.48 503.84 L285.23 504.71 L284.73 504.71 L284.48 512.21 L284.23 512.21 L283.98 504.71 L283.73 504.71 L283.48 503.66 L283.23 502.83 L280.23 502.83 L279.73 503.38 L279.23 503.46 L278.98 505.96 L278.73 505.96 L278.48 503.46 L277.23 503.46 L276.73 502.37 L276.48 502.21 L275.48 502.21 L275.23 501.82 L274.98 500.99 L274.73 500.33 L273.23 500.31 L272.48 499.71 L268.73 499.75 L267.98 500.96 L266.23 501 L265.98 501.41 L265.73 502.21 L265.48 502.21 L265.23 500.96 L262.23 500.96 L261.98 501.22 L261.73 501.77 L261.48 502.21 L260.48 502.21 L260.23 508.46 L259.98 508.46 L259.73 503.46 L258.23 503.44 L257.48 502.83 L253.98 502.83 L253.48 504.47 L253.23 504.71 L252.23 504.71 L251.98 509.08 L251.73 509.08 L251.48 504.71 L250.48 504.71 L250.23 504.32 L249.98 503.49 L249.73 502.83 L246.73 502.83 L246.48 504.08 L246.23 504.08 L245.98 503.46 L243.48 503.46 L243.23 507.83 L242.98 507.83 L242.73 505.96 L242.48 505.96 L242.23 502.45 L241.98 499.71 L238.98 499.71 L238.48 500.8 L238.23 500.96 L236.98 500.96 L236.73 501.08 L236.23 501.5 L235.98 501.58 L234.48 501.58 L234.23 501.83 L233.73 502.66 L233.48 502.83 L231.98 502.83 L231.73 502.96 L231.23 503.37 L230.98 503.46 L229.73 503.46 L229.48 505.96 L229.23 505.96 L228.98 505.09 L228.73 504.71 L227.23 504.71 L226.73 503.62 L226.48 503.46 L225.48 503.46 L225.23 503.33 L224.73 502.83 L221.48 502.83 L220.98 504.47 L220.73 504.71 L220.48 504.71 L220.23 509.08 L219.98 509.08 L219.73 505.33 L219.23 505.33 L218.98 505.2 L218.48 504.71 L216.98 504.69 L216.23 504.08 L214.73 504.08 L214.23 503.54 L213.98 503.46 L210.98 503.46 L210.73 503.72 L210.48 504.27 L210.23 504.71 L209.73 504.71 L209.48 507.83 L209.23 507.83 L208.98 503.46 L208.73 503.46 L208.48 502.76 L208.23 502.21 L204.98 502.23 L204.23 502.83 L202.48 502.85 L202.23 503.06 L201.98 503.46 L201.73 503.46 L201.48 502.59 L201.23 502.21 L199.73 502.21 L199.23 500.02 L198.98 499.71 L196.23 499.71 L195.98 500.28 L195.73 501.94 L195.48 502.21 L194.73 502.21 L194.48 502.73 L194.23 503.84 L193.98 504.71 L192.48 504.73 L192.23 504.94 L191.98 505.33 L191.73 505.33 L191.48 504.9 L191.23 504.71 L189.98 504.71 L189.73 503.31 L189.48 502.21 L186.73 502.21 L186.48 502.91 L186.23 503.46 L185.48 503.46 L185.23 505.96 L184.98 505.96 L184.73 504.71 L183.73 504.71 L183.48 501.91 L183.23 499.71 L180.48 499.71 L180.23 500.41 L179.98 500.96 L178.98 500.96 L178.48 503.69 L178.23 504.08 L176.98 504.08 L176.73 504.45 L176.48 505.96 L176.23 505.96 L175.98 504.63 L175.73 503.8 L175.48 503.46 L171.98 503.46 L171.73 503.83 L171.48 505.33 L171.23 505.33 L170.98 503.46 L167.73 503.46 L167.23 504.55 L166.98 504.71 L165.98 504.71 L165.73 505.33 L165.48 505.33 L165.23 502.21 L160.98 502.21 L160.73 506.58 L160.23 506.58Z" clip-path="url(#c2)" fill="#1f77b4" stroke="#1f77b4" stroke-width="2.083" stroke-linejoin="round"/>
<line x1="202.5" y1="519.50" x2="202.5" y2="524.50" stroke="#000" stroke-width="1"/>
<text transform="translate(169.991 556.536) rotate(-30)" textLength="35.012">2020</text>
<line x1="285.5" y1="519.50" x2="285.5" y2="524.50" stroke="#000" stroke-width="1"/>
<text transform="translate(252.950 556.536) rotate(-30)" textLength="35.012">2030</text>
<line x1="368.5" y1="519.50" x2="368.5" y2="524.50" stroke="#000" stroke-width="1"/>
<text transform="translate(335.886 556.536) rotate(-30)" textLength="35.012">2040</text>
<line x1="451.5" y1="519.50" x2="451.5" y2="524.50" stroke="#000" stroke-width="1"/>
<text transform="translate(418.844 556.536) rotate(-30)" textLength="35.012">2050</text>
<line x1="534.5" y1="519.50" x2="534.5" y2="524.50" stroke="#000" stroke-width="1"/>
<text transform="translate(501.780 556.536) rotate(-30)" textLength="35.012">2060</text>
<line x1="617.5" y1="519.50" x2="617.5" y2="524.50" stroke="#000" stroke-width="1"/>
<text transform="translate(584.738 556.536) rotate(-30)" textLength="35.012">2070</text>
<line x1="700.5" y1="519.50" x2="700.5" y2="524.50" stroke="#000" stroke-width="1"/>
<text transform="translate(667.674 556.536) rotate(-30)" textLength="35.012">2080</text>
<line x1="783.5" y1="519.50" x2="783.5" y2="524.50" stroke="#000" stroke-width="1"/>
<text transform="translate(750.633 556.536) rotate(-30)" textLength="35.012">2090</text>
<line x1="866.5" y1="519.50" x2="866.5" y2="524.50" stroke="#000" stroke-width="1"/>
<text transform="translate(833.569 556.536) rotate(-30)" textLength="35.012">2100</text>
<line x1="120.50" y1="496.5" x2="125.50" y2="496.5" stroke="#000" stroke-width="1"/>
<text x="98.322" y="500.840" textLength="16.956">20</text>
<line x1="120.50" y1="453.5" x2="125.50" y2="453.5" stroke="#000" stroke-width="1"/>
<text x="98.322" y="457.815" textLength="16.656">40</text>
<line x1="120.50" y1="410.5" x2="125.50" y2="410.5" stroke="#000" stroke-width="1"/>
<text x="98.322" y="415.691" textLength="17.456">60</text>
<text transform="translate(88.160 490.984) rotate(-90) scale(0.99252 1)">fieldmax</text>
<rect x="125.5" y="401.5" width="775.0" height="118.0" fill="none" stroke="#000" stroke-width="1.111" stroke-linejoin="miter"/>
</g>
<g id="axes4">
<rect x="125.000" y="542.069" width="775.000" height="117.241" fill="#ffffff"/>
<path d="M160.23 600.69 L864.77 600.69" clip-path="url(#c3)" fill="none" stroke="#1f77b4" stroke-width="2.083" stroke-linejoin="round" stroke-linecap="square"/>
<line x1="202.5" y1="659.50" x2="202.5" y2="664.50" stroke="#000" stroke-width="1"/>
<text transform="translate(169.991 696.536) rotate(-30)" textLength="35.012">2020</text>
<line x1="285.5" y1="659.50" x2="285.5" y2="664.50" stroke="#000" stroke-width="1"/>
<text transform="translate(252.950 696.536) rotate(-30)" textLength="35.012">2030</text>
<line x1="368.5" y1="659.50" x2="368.5" y2="664.50" stroke="#000" stroke-width="1"/>
<text transform="translate(335.886 696.536) rotate(-30)" textLength="35.012">2040</text>
<line x1="451.5" y1="659.50" x2="451.5" y2="664.50" stroke="#000" stroke-width="1"/>
<text transform="translate(418.844 696.536) rotate(-30)" textLength="35.012">2050</text>
<line x1="534.5" y1="659.50" x2="534.5" y2="664.50" stroke="#000" stroke-width="1"/>
<text transform="translate(501.780 696.536) rotate(-30)" textLength="35.012">2060</text>
<line x1="617.5" y1="659.50" x2="617.5" y2="664.50" stroke="#000" stroke-width="1"/>
<text transform="translate(584.738 696.536) rotate(-30)" textLength="35.012">2070</text>
<line x1="700.5" y1="659.50" x2="700.5" y2="664.50" stroke="#000" stroke-width="1"/>
<text transform="translate(667.674 696.536) rotate(-30)" textLength="35.012">2080</text>
<line x1="783.5" y1="659.50" x2="783.5" y2="664.50" stroke="#000" stroke-width="1"/>
<text transform="translate(750.633 696.536) rotate(-30)" textLength="35.012">2090</text>
<line x1="866.5" y1="659.50" x2="866.5" y2="664.50" stroke="#000" stroke-width="1"/>
<text transform="translate(833.569 696.536) rotate(-30)" textLength="35.012">2100</text>
<line x1="120.50" y1="654.5" x2="125.50" y2="654.5" stroke="#000" stroke-width="1"/>
<text x="72.757" y="659.258" textLength="41.870">−0.05</text>
<line x1="120.50" y1="601.5" x2="125.50" y2="601.5" stroke="#000" stroke-width="1"/>
<text x="85.283" y="605.966" textLength="29.345">0.00</text>
<line x1="120.50" y1="547.5" x2="125.50" y2="547.5" stroke="#000" stroke-width="1"/>
<text x="85.283" y="552.675" textLength="29.345">0.05</text>
<text transform="translate(64.271 645.109) rotate(-90)" textLength="84.038">nummasked</text>
<rect x="125.5" y="542.5" width="775.0" height="117.0" fill="none" stroke="#000" stroke-width="1.111" stroke-linejoin="miter"/>
</g>
<g id="axes5">
<rect x="125.000" y="682.759" width="775.000" height="117.241" fill="#ffffff"/>
<path d="M160.23 741.38 L864.77 741.38" clip-path="url(#c4)" fill="none" stroke="#1f77b4" stroke-width="2.083" stroke-linejoin="round" stroke-linecap="square"/>
<line x1="202.5" y1="800.50" x2="202.5" y2="805.50" stroke="#000" stroke-width="1"/>
<text transform="translate(169.991 837.535) rotate(-30)" textLength="35.012">2020</text>
<line x1="285.5" y1="800.50" x2="285.5" y2="805.50" stroke="#000" stroke-width="1"/>
<text transform="translate(252.950 837.535) rotate(-30)" textLength="35.012">2030</text>
<line x1="368.5" y1="800.50" x2="368.5" y2="805.50" stroke="#000" stroke-width="1"/>
<text transform="translate(335.886 837.535) rotate(-30)" textLength="35.012">2040</text>
<line x1="451.5" y1="800.50" x2="451.5" y2="805.50" stroke="#000" stroke-width="1"/>
<text transform="translate(418.844 837.535) rotate(-30)" textLength="35.012">2050</text>
<line x1="534.5" y1="800.50" x2="534.5" y2="805.50" stroke="#000" stroke-width="1"/>
<text transform="translate(501.780 837.535) rotate(-30)" textLength="35.012">2060</text>
<line x1="617.5" y1="800.50" x2="617.5" y2="805.50" stroke="#000" stroke-width="1"/>
<text transform="translate(584.738 837.535) rotate(-30)" textLength="35.012">2070</text>
<line x1="700.5" y1="800.50" x2="700.5" y2="805.50" stroke="#000" stroke-width="1"/>
<text transform="translate(667.674 837.535) rotate(-30)" textLength="35.012">2080</text>
<line x1="783.5" y1="800.50" x2="783.5" y2="805.50" stroke="#000" stroke-width="1"/>
<text transform="translate(750.633 837.535) rotate(-30)" textLength="35.012">2090</text>
<line x1="866.5" y1="800.50" x2="866.5" y2="805.50" stroke="#000" stroke-width="1"/>
<text transform="translate(833.569 837.535) rotate(-30)" textLength="35.012">2100</text>
<line x1="120.50" y1="795.5" x2="125.50" y2="795.5" stroke="#000" stroke-width="1"/>
<text x="72.757" y="799.948" textLength="41.870">−0.05</text>
<line x1="120.50" y1="741.5" x2="125.50" y2="741.5" stroke="#000" stroke-width="1"/>
<text x="85.283" y="746.656" textLength="29.345">0.00</text>
<line x1="120.50" y1="688.5" x2="125.50" y2="688.5" stroke="#000" stroke-width="1"/>
<text x="85.283" y="693.364" textLength="29.345">0.05</text>
<text transform="translate(64.271 772.078) rotate(-90)" textLength="56.596">numnan</text>
<rect x="125.5" y="683.5" width="775.0" height="117.0" fill="none" stroke="#000" stroke-width="1.111" stroke-linejoin="miter"/>
<text x="480.211" y="856.046" textLength="63.478">validtime</text>
</g>
</g>
</svg>
</body></html>
